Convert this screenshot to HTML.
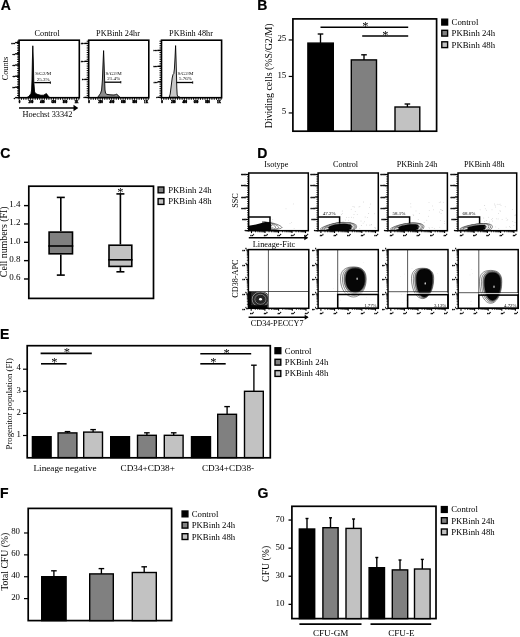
<!DOCTYPE html>
<html><head><meta charset="utf-8"><title>Figure</title>
<style>html,body{margin:0;padding:0;background:#fff}svg{display:block;filter:blur(0.35px)}</style>
</head><body>
<svg width="520" height="637" viewBox="0 0 520 637">
<rect width="520" height="637" fill="#fff"/>
<text x="0.8" y="10" font-size="14" text-anchor="start" font-family="Liberation Sans, sans-serif" font-weight="bold" fill="#000" stroke="#000" stroke-width="0.2">A</text>
<text x="257.3" y="10" font-size="14" text-anchor="start" font-family="Liberation Sans, sans-serif" font-weight="bold" fill="#000" stroke="#000" stroke-width="0.2">B</text>
<text x="0.25" y="158" font-size="14" text-anchor="start" font-family="Liberation Sans, sans-serif" font-weight="bold" fill="#000" stroke="#000" stroke-width="0.2">C</text>
<text x="257.25" y="158" font-size="14" text-anchor="start" font-family="Liberation Sans, sans-serif" font-weight="bold" fill="#000" stroke="#000" stroke-width="0.2">D</text>
<text x="0.0" y="339" font-size="14" text-anchor="start" font-family="Liberation Sans, sans-serif" font-weight="bold" fill="#000" stroke="#000" stroke-width="0.2">E</text>
<text x="0.0" y="498" font-size="14" text-anchor="start" font-family="Liberation Sans, sans-serif" font-weight="bold" fill="#000" stroke="#000" stroke-width="0.2">F</text>
<text x="257.4" y="497.9" font-size="14" text-anchor="start" font-family="Liberation Sans, sans-serif" font-weight="bold" fill="#000" stroke="#000" stroke-width="0.2">G</text>
<path d="M27,97.5 L28.5,96.6 L30,95 L31,93.5 L31.6,90 L32,80 L32.4,60 L32.8,45.8 L33.3,60 L33.8,82 L34.6,92 L36,93.8 L38,94.6 L41,95.3 L43.5,95.2 L45,94.4 L46.2,93.6 L47.3,94.6 L48.5,96.6 L50,97.5 Z" fill="#000" stroke="#000" stroke-width="0.9" stroke-linejoin="round"/>
<rect x="19.1" y="40.2" width="60.20" height="57.50" fill="none" stroke="#000" stroke-width="1.6"/>
<line x1="17.1" y1="41.20" x2="19.1" y2="41.20" stroke="#000" stroke-width="1.0"/>
<line x1="17.1" y1="43.46" x2="19.1" y2="43.46" stroke="#000" stroke-width="1.0"/>
<line x1="17.1" y1="45.72" x2="19.1" y2="45.72" stroke="#000" stroke-width="1.0"/>
<line x1="17.1" y1="47.98" x2="19.1" y2="47.98" stroke="#000" stroke-width="1.0"/>
<line x1="17.1" y1="50.24" x2="19.1" y2="50.24" stroke="#000" stroke-width="1.0"/>
<line x1="17.1" y1="52.50" x2="19.1" y2="52.50" stroke="#000" stroke-width="1.0"/>
<line x1="17.1" y1="54.76" x2="19.1" y2="54.76" stroke="#000" stroke-width="1.0"/>
<line x1="17.1" y1="57.02" x2="19.1" y2="57.02" stroke="#000" stroke-width="1.0"/>
<line x1="17.1" y1="59.28" x2="19.1" y2="59.28" stroke="#000" stroke-width="1.0"/>
<line x1="17.1" y1="61.54" x2="19.1" y2="61.54" stroke="#000" stroke-width="1.0"/>
<line x1="17.1" y1="63.80" x2="19.1" y2="63.80" stroke="#000" stroke-width="1.0"/>
<line x1="17.1" y1="66.06" x2="19.1" y2="66.06" stroke="#000" stroke-width="1.0"/>
<line x1="17.1" y1="68.32" x2="19.1" y2="68.32" stroke="#000" stroke-width="1.0"/>
<line x1="17.1" y1="70.58" x2="19.1" y2="70.58" stroke="#000" stroke-width="1.0"/>
<line x1="17.1" y1="72.84" x2="19.1" y2="72.84" stroke="#000" stroke-width="1.0"/>
<line x1="17.1" y1="75.10" x2="19.1" y2="75.10" stroke="#000" stroke-width="1.0"/>
<line x1="17.1" y1="77.36" x2="19.1" y2="77.36" stroke="#000" stroke-width="1.0"/>
<line x1="17.1" y1="79.62" x2="19.1" y2="79.62" stroke="#000" stroke-width="1.0"/>
<line x1="17.1" y1="81.88" x2="19.1" y2="81.88" stroke="#000" stroke-width="1.0"/>
<line x1="17.1" y1="84.14" x2="19.1" y2="84.14" stroke="#000" stroke-width="1.0"/>
<line x1="17.1" y1="86.40" x2="19.1" y2="86.40" stroke="#000" stroke-width="1.0"/>
<line x1="17.1" y1="88.66" x2="19.1" y2="88.66" stroke="#000" stroke-width="1.0"/>
<line x1="17.1" y1="90.92" x2="19.1" y2="90.92" stroke="#000" stroke-width="1.0"/>
<line x1="17.1" y1="93.18" x2="19.1" y2="93.18" stroke="#000" stroke-width="1.0"/>
<line x1="17.1" y1="95.44" x2="19.1" y2="95.44" stroke="#000" stroke-width="1.0"/>
<line x1="17.1" y1="97.70" x2="19.1" y2="97.70" stroke="#000" stroke-width="1.0"/>
<line x1="15.100000000000001" y1="42.60" x2="19.1" y2="42.60" stroke="#000" stroke-width="1.4"/>
<text x="15.100000000000001" y="43.55" font-size="2.6" text-anchor="end" font-family="Liberation Serif, serif" font-weight="bold" fill="#000" stroke="#000" stroke-width="0.4">100</text>
<line x1="15.100000000000001" y1="53.80" x2="19.1" y2="53.80" stroke="#000" stroke-width="1.4"/>
<text x="15.100000000000001" y="54.75" font-size="2.6" text-anchor="end" font-family="Liberation Serif, serif" font-weight="bold" fill="#000" stroke="#000" stroke-width="0.4">80</text>
<line x1="15.100000000000001" y1="65.00" x2="19.1" y2="65.00" stroke="#000" stroke-width="1.4"/>
<text x="15.100000000000001" y="65.95" font-size="2.6" text-anchor="end" font-family="Liberation Serif, serif" font-weight="bold" fill="#000" stroke="#000" stroke-width="0.4">60</text>
<line x1="15.100000000000001" y1="76.20" x2="19.1" y2="76.20" stroke="#000" stroke-width="1.4"/>
<text x="15.100000000000001" y="77.15" font-size="2.6" text-anchor="end" font-family="Liberation Serif, serif" font-weight="bold" fill="#000" stroke="#000" stroke-width="0.4">40</text>
<line x1="15.100000000000001" y1="87.20" x2="19.1" y2="87.20" stroke="#000" stroke-width="1.4"/>
<text x="15.100000000000001" y="88.15" font-size="2.6" text-anchor="end" font-family="Liberation Serif, serif" font-weight="bold" fill="#000" stroke="#000" stroke-width="0.4">20</text>
<line x1="15.100000000000001" y1="97.60" x2="19.1" y2="97.60" stroke="#000" stroke-width="1.4"/>
<text x="15.100000000000001" y="98.55" font-size="2.6" text-anchor="end" font-family="Liberation Serif, serif" font-weight="bold" fill="#000" stroke="#000" stroke-width="0.4">0</text>
<line x1="19.10" y1="97.7" x2="19.10" y2="99.8" stroke="#000" stroke-width="1.0"/>
<line x1="21.40" y1="97.7" x2="21.40" y2="99.8" stroke="#000" stroke-width="1.0"/>
<line x1="23.69" y1="97.7" x2="23.69" y2="99.8" stroke="#000" stroke-width="1.0"/>
<line x1="25.99" y1="97.7" x2="25.99" y2="99.8" stroke="#000" stroke-width="1.0"/>
<line x1="28.28" y1="97.7" x2="28.28" y2="99.8" stroke="#000" stroke-width="1.0"/>
<line x1="30.58" y1="97.7" x2="30.58" y2="99.8" stroke="#000" stroke-width="1.0"/>
<line x1="32.88" y1="97.7" x2="32.88" y2="99.8" stroke="#000" stroke-width="1.0"/>
<line x1="35.17" y1="97.7" x2="35.17" y2="99.8" stroke="#000" stroke-width="1.0"/>
<line x1="37.47" y1="97.7" x2="37.47" y2="99.8" stroke="#000" stroke-width="1.0"/>
<line x1="39.77" y1="97.7" x2="39.77" y2="99.8" stroke="#000" stroke-width="1.0"/>
<line x1="42.06" y1="97.7" x2="42.06" y2="99.8" stroke="#000" stroke-width="1.0"/>
<line x1="44.36" y1="97.7" x2="44.36" y2="99.8" stroke="#000" stroke-width="1.0"/>
<line x1="46.65" y1="97.7" x2="46.65" y2="99.8" stroke="#000" stroke-width="1.0"/>
<line x1="48.95" y1="97.7" x2="48.95" y2="99.8" stroke="#000" stroke-width="1.0"/>
<line x1="51.25" y1="97.7" x2="51.25" y2="99.8" stroke="#000" stroke-width="1.0"/>
<line x1="53.54" y1="97.7" x2="53.54" y2="99.8" stroke="#000" stroke-width="1.0"/>
<line x1="55.84" y1="97.7" x2="55.84" y2="99.8" stroke="#000" stroke-width="1.0"/>
<line x1="58.13" y1="97.7" x2="58.13" y2="99.8" stroke="#000" stroke-width="1.0"/>
<line x1="60.43" y1="97.7" x2="60.43" y2="99.8" stroke="#000" stroke-width="1.0"/>
<line x1="62.73" y1="97.7" x2="62.73" y2="99.8" stroke="#000" stroke-width="1.0"/>
<line x1="65.02" y1="97.7" x2="65.02" y2="99.8" stroke="#000" stroke-width="1.0"/>
<line x1="67.32" y1="97.7" x2="67.32" y2="99.8" stroke="#000" stroke-width="1.0"/>
<line x1="69.62" y1="97.7" x2="69.62" y2="99.8" stroke="#000" stroke-width="1.0"/>
<line x1="71.91" y1="97.7" x2="71.91" y2="99.8" stroke="#000" stroke-width="1.0"/>
<line x1="74.21" y1="97.7" x2="74.21" y2="99.8" stroke="#000" stroke-width="1.0"/>
<line x1="76.50" y1="97.7" x2="76.50" y2="99.8" stroke="#000" stroke-width="1.0"/>
<line x1="78.80" y1="97.7" x2="78.80" y2="99.8" stroke="#000" stroke-width="1.0"/>
<text x="19.50" y="103.10000000000001" font-size="3.1" text-anchor="middle" font-family="Liberation Serif, serif" font-weight="bold" fill="#000" stroke="#000" stroke-width="0.4">0</text>
<text x="30.90" y="103.10000000000001" font-size="3.1" text-anchor="middle" font-family="Liberation Serif, serif" font-weight="bold" fill="#000" stroke="#000" stroke-width="0.4">200</text>
<text x="42.30" y="103.10000000000001" font-size="3.1" text-anchor="middle" font-family="Liberation Serif, serif" font-weight="bold" fill="#000" stroke="#000" stroke-width="0.4">400</text>
<text x="53.70" y="103.10000000000001" font-size="3.1" text-anchor="middle" font-family="Liberation Serif, serif" font-weight="bold" fill="#000" stroke="#000" stroke-width="0.4">600</text>
<text x="65.10" y="103.10000000000001" font-size="3.1" text-anchor="middle" font-family="Liberation Serif, serif" font-weight="bold" fill="#000" stroke="#000" stroke-width="0.4">800</text>
<text x="76.50" y="103.10000000000001" font-size="3.1" text-anchor="middle" font-family="Liberation Serif, serif" font-weight="bold" fill="#000" stroke="#000" stroke-width="0.4">1K</text>
<line x1="34.2" y1="82.6" x2="50.4" y2="82.6" stroke="#000" stroke-width="1.3"/>
<line x1="50.4" y1="81.39999999999999" x2="50.4" y2="83.8" stroke="#000" stroke-width="0.9"/>
<text x="43.199999999999996" y="75.39999999999999" font-size="5" text-anchor="middle" font-family="Liberation Serif, serif" fill="#000">S/G2/M</text>
<text x="43.199999999999996" y="80.5" font-size="5" text-anchor="middle" font-family="Liberation Serif, serif" fill="#000">25.3%</text>
<text x="47.2" y="35.8" font-size="8.25" text-anchor="middle" font-family="Liberation Serif, serif" fill="#000">Control</text>
<path d="M97.6,97.3 L98.6,96.2 L99.6,94.6 L100.6,93.2 L101.6,90 L102.4,80 L103,64 L103.6,50.6 L104.1,64 L104.6,80 L105,90 L105.6,93.4 L107,94.4 L110,94.8 L114,95 L115.6,94.6 L116.8,94.2 L117.8,95 L118.9,96.6 L120,97.3 Z" fill="#8a8a8a" stroke="#000" stroke-width="0.9" stroke-linejoin="round"/>
<rect x="88.7" y="40.2" width="60.10" height="57.50" fill="none" stroke="#000" stroke-width="1.6"/>
<line x1="86.7" y1="41.20" x2="88.7" y2="41.20" stroke="#000" stroke-width="1.0"/>
<line x1="86.7" y1="43.46" x2="88.7" y2="43.46" stroke="#000" stroke-width="1.0"/>
<line x1="86.7" y1="45.72" x2="88.7" y2="45.72" stroke="#000" stroke-width="1.0"/>
<line x1="86.7" y1="47.98" x2="88.7" y2="47.98" stroke="#000" stroke-width="1.0"/>
<line x1="86.7" y1="50.24" x2="88.7" y2="50.24" stroke="#000" stroke-width="1.0"/>
<line x1="86.7" y1="52.50" x2="88.7" y2="52.50" stroke="#000" stroke-width="1.0"/>
<line x1="86.7" y1="54.76" x2="88.7" y2="54.76" stroke="#000" stroke-width="1.0"/>
<line x1="86.7" y1="57.02" x2="88.7" y2="57.02" stroke="#000" stroke-width="1.0"/>
<line x1="86.7" y1="59.28" x2="88.7" y2="59.28" stroke="#000" stroke-width="1.0"/>
<line x1="86.7" y1="61.54" x2="88.7" y2="61.54" stroke="#000" stroke-width="1.0"/>
<line x1="86.7" y1="63.80" x2="88.7" y2="63.80" stroke="#000" stroke-width="1.0"/>
<line x1="86.7" y1="66.06" x2="88.7" y2="66.06" stroke="#000" stroke-width="1.0"/>
<line x1="86.7" y1="68.32" x2="88.7" y2="68.32" stroke="#000" stroke-width="1.0"/>
<line x1="86.7" y1="70.58" x2="88.7" y2="70.58" stroke="#000" stroke-width="1.0"/>
<line x1="86.7" y1="72.84" x2="88.7" y2="72.84" stroke="#000" stroke-width="1.0"/>
<line x1="86.7" y1="75.10" x2="88.7" y2="75.10" stroke="#000" stroke-width="1.0"/>
<line x1="86.7" y1="77.36" x2="88.7" y2="77.36" stroke="#000" stroke-width="1.0"/>
<line x1="86.7" y1="79.62" x2="88.7" y2="79.62" stroke="#000" stroke-width="1.0"/>
<line x1="86.7" y1="81.88" x2="88.7" y2="81.88" stroke="#000" stroke-width="1.0"/>
<line x1="86.7" y1="84.14" x2="88.7" y2="84.14" stroke="#000" stroke-width="1.0"/>
<line x1="86.7" y1="86.40" x2="88.7" y2="86.40" stroke="#000" stroke-width="1.0"/>
<line x1="86.7" y1="88.66" x2="88.7" y2="88.66" stroke="#000" stroke-width="1.0"/>
<line x1="86.7" y1="90.92" x2="88.7" y2="90.92" stroke="#000" stroke-width="1.0"/>
<line x1="86.7" y1="93.18" x2="88.7" y2="93.18" stroke="#000" stroke-width="1.0"/>
<line x1="86.7" y1="95.44" x2="88.7" y2="95.44" stroke="#000" stroke-width="1.0"/>
<line x1="86.7" y1="97.70" x2="88.7" y2="97.70" stroke="#000" stroke-width="1.0"/>
<line x1="84.7" y1="43.40" x2="88.7" y2="43.40" stroke="#000" stroke-width="1.4"/>
<text x="84.7" y="44.35" font-size="2.6" text-anchor="end" font-family="Liberation Serif, serif" font-weight="bold" fill="#000" stroke="#000" stroke-width="0.4">150</text>
<line x1="84.7" y1="61.30" x2="88.7" y2="61.30" stroke="#000" stroke-width="1.4"/>
<text x="84.7" y="62.25" font-size="2.6" text-anchor="end" font-family="Liberation Serif, serif" font-weight="bold" fill="#000" stroke="#000" stroke-width="0.4">100</text>
<line x1="84.7" y1="79.40" x2="88.7" y2="79.40" stroke="#000" stroke-width="1.4"/>
<text x="84.7" y="80.35" font-size="2.6" text-anchor="end" font-family="Liberation Serif, serif" font-weight="bold" fill="#000" stroke="#000" stroke-width="0.4">50</text>
<line x1="84.7" y1="97.40" x2="88.7" y2="97.40" stroke="#000" stroke-width="1.4"/>
<text x="84.7" y="98.35" font-size="2.6" text-anchor="end" font-family="Liberation Serif, serif" font-weight="bold" fill="#000" stroke="#000" stroke-width="0.4">0</text>
<line x1="88.70" y1="97.7" x2="88.70" y2="99.8" stroke="#000" stroke-width="1.0"/>
<line x1="90.99" y1="97.7" x2="90.99" y2="99.8" stroke="#000" stroke-width="1.0"/>
<line x1="93.28" y1="97.7" x2="93.28" y2="99.8" stroke="#000" stroke-width="1.0"/>
<line x1="95.58" y1="97.7" x2="95.58" y2="99.8" stroke="#000" stroke-width="1.0"/>
<line x1="97.87" y1="97.7" x2="97.87" y2="99.8" stroke="#000" stroke-width="1.0"/>
<line x1="100.16" y1="97.7" x2="100.16" y2="99.8" stroke="#000" stroke-width="1.0"/>
<line x1="102.45" y1="97.7" x2="102.45" y2="99.8" stroke="#000" stroke-width="1.0"/>
<line x1="104.75" y1="97.7" x2="104.75" y2="99.8" stroke="#000" stroke-width="1.0"/>
<line x1="107.04" y1="97.7" x2="107.04" y2="99.8" stroke="#000" stroke-width="1.0"/>
<line x1="109.33" y1="97.7" x2="109.33" y2="99.8" stroke="#000" stroke-width="1.0"/>
<line x1="111.62" y1="97.7" x2="111.62" y2="99.8" stroke="#000" stroke-width="1.0"/>
<line x1="113.92" y1="97.7" x2="113.92" y2="99.8" stroke="#000" stroke-width="1.0"/>
<line x1="116.21" y1="97.7" x2="116.21" y2="99.8" stroke="#000" stroke-width="1.0"/>
<line x1="118.50" y1="97.7" x2="118.50" y2="99.8" stroke="#000" stroke-width="1.0"/>
<line x1="120.79" y1="97.7" x2="120.79" y2="99.8" stroke="#000" stroke-width="1.0"/>
<line x1="123.08" y1="97.7" x2="123.08" y2="99.8" stroke="#000" stroke-width="1.0"/>
<line x1="125.38" y1="97.7" x2="125.38" y2="99.8" stroke="#000" stroke-width="1.0"/>
<line x1="127.67" y1="97.7" x2="127.67" y2="99.8" stroke="#000" stroke-width="1.0"/>
<line x1="129.96" y1="97.7" x2="129.96" y2="99.8" stroke="#000" stroke-width="1.0"/>
<line x1="132.25" y1="97.7" x2="132.25" y2="99.8" stroke="#000" stroke-width="1.0"/>
<line x1="134.55" y1="97.7" x2="134.55" y2="99.8" stroke="#000" stroke-width="1.0"/>
<line x1="136.84" y1="97.7" x2="136.84" y2="99.8" stroke="#000" stroke-width="1.0"/>
<line x1="139.13" y1="97.7" x2="139.13" y2="99.8" stroke="#000" stroke-width="1.0"/>
<line x1="141.42" y1="97.7" x2="141.42" y2="99.8" stroke="#000" stroke-width="1.0"/>
<line x1="143.72" y1="97.7" x2="143.72" y2="99.8" stroke="#000" stroke-width="1.0"/>
<line x1="146.01" y1="97.7" x2="146.01" y2="99.8" stroke="#000" stroke-width="1.0"/>
<line x1="148.30" y1="97.7" x2="148.30" y2="99.8" stroke="#000" stroke-width="1.0"/>
<text x="89.10" y="103.10000000000001" font-size="3.1" text-anchor="middle" font-family="Liberation Serif, serif" font-weight="bold" fill="#000" stroke="#000" stroke-width="0.4">0</text>
<text x="100.50" y="103.10000000000001" font-size="3.1" text-anchor="middle" font-family="Liberation Serif, serif" font-weight="bold" fill="#000" stroke="#000" stroke-width="0.4">200</text>
<text x="111.90" y="103.10000000000001" font-size="3.1" text-anchor="middle" font-family="Liberation Serif, serif" font-weight="bold" fill="#000" stroke="#000" stroke-width="0.4">400</text>
<text x="123.30" y="103.10000000000001" font-size="3.1" text-anchor="middle" font-family="Liberation Serif, serif" font-weight="bold" fill="#000" stroke="#000" stroke-width="0.4">600</text>
<text x="134.70" y="103.10000000000001" font-size="3.1" text-anchor="middle" font-family="Liberation Serif, serif" font-weight="bold" fill="#000" stroke="#000" stroke-width="0.4">800</text>
<text x="146.10" y="103.10000000000001" font-size="3.1" text-anchor="middle" font-family="Liberation Serif, serif" font-weight="bold" fill="#000" stroke="#000" stroke-width="0.4">1K</text>
<line x1="104.6" y1="82.2" x2="120.8" y2="82.2" stroke="#000" stroke-width="1.3"/>
<line x1="120.8" y1="81.0" x2="120.8" y2="83.4" stroke="#000" stroke-width="0.9"/>
<text x="113.6" y="75.0" font-size="5" text-anchor="middle" font-family="Liberation Serif, serif" fill="#000">S/G2/M</text>
<text x="113.6" y="80.10000000000001" font-size="5" text-anchor="middle" font-family="Liberation Serif, serif" fill="#000">21.4%</text>
<text x="118" y="35.8" font-size="8.25" text-anchor="middle" font-family="Liberation Serif, serif" fill="#000">PKBinh 24hr</text>
<path d="M169.2,97.3 L170.2,94 L171.2,86 L172.2,78 L173,74.6 L173.8,73.6 L174.4,69 L175,58 L175.6,45.6 L176,58 L176.4,72 L176.8,88 L177.2,95 L178,96.8 L180,97.3 Z" fill="#c8c8c8" stroke="#000" stroke-width="0.9" stroke-linejoin="round"/>
<rect x="161.5" y="40.2" width="60.10" height="57.50" fill="none" stroke="#000" stroke-width="1.6"/>
<line x1="159.5" y1="41.20" x2="161.5" y2="41.20" stroke="#000" stroke-width="1.0"/>
<line x1="159.5" y1="43.46" x2="161.5" y2="43.46" stroke="#000" stroke-width="1.0"/>
<line x1="159.5" y1="45.72" x2="161.5" y2="45.72" stroke="#000" stroke-width="1.0"/>
<line x1="159.5" y1="47.98" x2="161.5" y2="47.98" stroke="#000" stroke-width="1.0"/>
<line x1="159.5" y1="50.24" x2="161.5" y2="50.24" stroke="#000" stroke-width="1.0"/>
<line x1="159.5" y1="52.50" x2="161.5" y2="52.50" stroke="#000" stroke-width="1.0"/>
<line x1="159.5" y1="54.76" x2="161.5" y2="54.76" stroke="#000" stroke-width="1.0"/>
<line x1="159.5" y1="57.02" x2="161.5" y2="57.02" stroke="#000" stroke-width="1.0"/>
<line x1="159.5" y1="59.28" x2="161.5" y2="59.28" stroke="#000" stroke-width="1.0"/>
<line x1="159.5" y1="61.54" x2="161.5" y2="61.54" stroke="#000" stroke-width="1.0"/>
<line x1="159.5" y1="63.80" x2="161.5" y2="63.80" stroke="#000" stroke-width="1.0"/>
<line x1="159.5" y1="66.06" x2="161.5" y2="66.06" stroke="#000" stroke-width="1.0"/>
<line x1="159.5" y1="68.32" x2="161.5" y2="68.32" stroke="#000" stroke-width="1.0"/>
<line x1="159.5" y1="70.58" x2="161.5" y2="70.58" stroke="#000" stroke-width="1.0"/>
<line x1="159.5" y1="72.84" x2="161.5" y2="72.84" stroke="#000" stroke-width="1.0"/>
<line x1="159.5" y1="75.10" x2="161.5" y2="75.10" stroke="#000" stroke-width="1.0"/>
<line x1="159.5" y1="77.36" x2="161.5" y2="77.36" stroke="#000" stroke-width="1.0"/>
<line x1="159.5" y1="79.62" x2="161.5" y2="79.62" stroke="#000" stroke-width="1.0"/>
<line x1="159.5" y1="81.88" x2="161.5" y2="81.88" stroke="#000" stroke-width="1.0"/>
<line x1="159.5" y1="84.14" x2="161.5" y2="84.14" stroke="#000" stroke-width="1.0"/>
<line x1="159.5" y1="86.40" x2="161.5" y2="86.40" stroke="#000" stroke-width="1.0"/>
<line x1="159.5" y1="88.66" x2="161.5" y2="88.66" stroke="#000" stroke-width="1.0"/>
<line x1="159.5" y1="90.92" x2="161.5" y2="90.92" stroke="#000" stroke-width="1.0"/>
<line x1="159.5" y1="93.18" x2="161.5" y2="93.18" stroke="#000" stroke-width="1.0"/>
<line x1="159.5" y1="95.44" x2="161.5" y2="95.44" stroke="#000" stroke-width="1.0"/>
<line x1="159.5" y1="97.70" x2="161.5" y2="97.70" stroke="#000" stroke-width="1.0"/>
<line x1="157.5" y1="50.40" x2="161.5" y2="50.40" stroke="#000" stroke-width="1.4"/>
<text x="157.5" y="51.35" font-size="2.6" text-anchor="end" font-family="Liberation Serif, serif" font-weight="bold" fill="#000" stroke="#000" stroke-width="0.4">300</text>
<line x1="157.5" y1="66.30" x2="161.5" y2="66.30" stroke="#000" stroke-width="1.4"/>
<text x="157.5" y="67.25" font-size="2.6" text-anchor="end" font-family="Liberation Serif, serif" font-weight="bold" fill="#000" stroke="#000" stroke-width="0.4">200</text>
<line x1="157.5" y1="81.80" x2="161.5" y2="81.80" stroke="#000" stroke-width="1.4"/>
<text x="157.5" y="82.75" font-size="2.6" text-anchor="end" font-family="Liberation Serif, serif" font-weight="bold" fill="#000" stroke="#000" stroke-width="0.4">100</text>
<line x1="157.5" y1="97.30" x2="161.5" y2="97.30" stroke="#000" stroke-width="1.4"/>
<text x="157.5" y="98.25" font-size="2.6" text-anchor="end" font-family="Liberation Serif, serif" font-weight="bold" fill="#000" stroke="#000" stroke-width="0.4">0</text>
<line x1="161.50" y1="97.7" x2="161.50" y2="99.8" stroke="#000" stroke-width="1.0"/>
<line x1="163.79" y1="97.7" x2="163.79" y2="99.8" stroke="#000" stroke-width="1.0"/>
<line x1="166.08" y1="97.7" x2="166.08" y2="99.8" stroke="#000" stroke-width="1.0"/>
<line x1="168.38" y1="97.7" x2="168.38" y2="99.8" stroke="#000" stroke-width="1.0"/>
<line x1="170.67" y1="97.7" x2="170.67" y2="99.8" stroke="#000" stroke-width="1.0"/>
<line x1="172.96" y1="97.7" x2="172.96" y2="99.8" stroke="#000" stroke-width="1.0"/>
<line x1="175.25" y1="97.7" x2="175.25" y2="99.8" stroke="#000" stroke-width="1.0"/>
<line x1="177.55" y1="97.7" x2="177.55" y2="99.8" stroke="#000" stroke-width="1.0"/>
<line x1="179.84" y1="97.7" x2="179.84" y2="99.8" stroke="#000" stroke-width="1.0"/>
<line x1="182.13" y1="97.7" x2="182.13" y2="99.8" stroke="#000" stroke-width="1.0"/>
<line x1="184.42" y1="97.7" x2="184.42" y2="99.8" stroke="#000" stroke-width="1.0"/>
<line x1="186.72" y1="97.7" x2="186.72" y2="99.8" stroke="#000" stroke-width="1.0"/>
<line x1="189.01" y1="97.7" x2="189.01" y2="99.8" stroke="#000" stroke-width="1.0"/>
<line x1="191.30" y1="97.7" x2="191.30" y2="99.8" stroke="#000" stroke-width="1.0"/>
<line x1="193.59" y1="97.7" x2="193.59" y2="99.8" stroke="#000" stroke-width="1.0"/>
<line x1="195.88" y1="97.7" x2="195.88" y2="99.8" stroke="#000" stroke-width="1.0"/>
<line x1="198.18" y1="97.7" x2="198.18" y2="99.8" stroke="#000" stroke-width="1.0"/>
<line x1="200.47" y1="97.7" x2="200.47" y2="99.8" stroke="#000" stroke-width="1.0"/>
<line x1="202.76" y1="97.7" x2="202.76" y2="99.8" stroke="#000" stroke-width="1.0"/>
<line x1="205.05" y1="97.7" x2="205.05" y2="99.8" stroke="#000" stroke-width="1.0"/>
<line x1="207.35" y1="97.7" x2="207.35" y2="99.8" stroke="#000" stroke-width="1.0"/>
<line x1="209.64" y1="97.7" x2="209.64" y2="99.8" stroke="#000" stroke-width="1.0"/>
<line x1="211.93" y1="97.7" x2="211.93" y2="99.8" stroke="#000" stroke-width="1.0"/>
<line x1="214.22" y1="97.7" x2="214.22" y2="99.8" stroke="#000" stroke-width="1.0"/>
<line x1="216.52" y1="97.7" x2="216.52" y2="99.8" stroke="#000" stroke-width="1.0"/>
<line x1="218.81" y1="97.7" x2="218.81" y2="99.8" stroke="#000" stroke-width="1.0"/>
<line x1="221.10" y1="97.7" x2="221.10" y2="99.8" stroke="#000" stroke-width="1.0"/>
<text x="161.90" y="103.10000000000001" font-size="3.1" text-anchor="middle" font-family="Liberation Serif, serif" font-weight="bold" fill="#000" stroke="#000" stroke-width="0.4">0</text>
<text x="173.30" y="103.10000000000001" font-size="3.1" text-anchor="middle" font-family="Liberation Serif, serif" font-weight="bold" fill="#000" stroke="#000" stroke-width="0.4">200</text>
<text x="184.70" y="103.10000000000001" font-size="3.1" text-anchor="middle" font-family="Liberation Serif, serif" font-weight="bold" fill="#000" stroke="#000" stroke-width="0.4">400</text>
<text x="196.10" y="103.10000000000001" font-size="3.1" text-anchor="middle" font-family="Liberation Serif, serif" font-weight="bold" fill="#000" stroke="#000" stroke-width="0.4">600</text>
<text x="207.50" y="103.10000000000001" font-size="3.1" text-anchor="middle" font-family="Liberation Serif, serif" font-weight="bold" fill="#000" stroke="#000" stroke-width="0.4">800</text>
<text x="218.90" y="103.10000000000001" font-size="3.1" text-anchor="middle" font-family="Liberation Serif, serif" font-weight="bold" fill="#000" stroke="#000" stroke-width="0.4">1K</text>
<line x1="176.5" y1="82.5" x2="192.7" y2="82.5" stroke="#000" stroke-width="1.3"/>
<line x1="192.7" y1="81.3" x2="192.7" y2="83.7" stroke="#000" stroke-width="0.9"/>
<text x="185.5" y="75.3" font-size="5" text-anchor="middle" font-family="Liberation Serif, serif" fill="#000">S/G2/M</text>
<text x="185.5" y="80.4" font-size="5" text-anchor="middle" font-family="Liberation Serif, serif" fill="#000">5.76%</text>
<text x="191" y="35.8" font-size="8.25" text-anchor="middle" font-family="Liberation Serif, serif" fill="#000">PKBinh 48hr</text>
<text x="8" y="68.6" font-size="8.3" text-anchor="middle" font-family="Liberation Serif, serif" fill="#000" transform="rotate(-90 8 68.6)">Counts</text>
<line x1="19" y1="108" x2="77.2" y2="108" stroke="#000" stroke-width="1.6"/>
<path d="M78.2,108 L73.5,104.85 L73.5,111.15 Z" fill="#000"/>
<text x="47.4" y="117" font-size="8.3" text-anchor="middle" font-family="Liberation Serif, serif" fill="#000">Hoechst 33342</text>
<rect x="292.9" y="18.9" width="143.70" height="112.30" fill="none" stroke="#000" stroke-width="1.7"/>
<line x1="288.7" y1="112.94999999999999" x2="292.9" y2="112.94999999999999" stroke="#000" stroke-width="1.2"/>
<text x="286.29999999999995" y="114.14999999999999" font-size="8.9" text-anchor="end" font-family="Liberation Serif, serif" fill="#000">5</text>
<line x1="288.7" y1="76.44999999999999" x2="292.9" y2="76.44999999999999" stroke="#000" stroke-width="1.2"/>
<text x="286.29999999999995" y="77.64999999999999" font-size="8.9" text-anchor="end" font-family="Liberation Serif, serif" fill="#000">15</text>
<line x1="288.7" y1="39.94999999999999" x2="292.9" y2="39.94999999999999" stroke="#000" stroke-width="1.2"/>
<text x="286.29999999999995" y="41.14999999999999" font-size="8.9" text-anchor="end" font-family="Liberation Serif, serif" fill="#000">25</text>
<rect x="307.90" y="43.10" width="25.40" height="88.10" fill="#000" stroke="#000" stroke-width="1.4"/>
<line x1="320.5" y1="34" x2="320.5" y2="43" stroke="#000" stroke-width="1.35"/>
<line x1="317.7" y1="34" x2="323.3" y2="34" stroke="#000" stroke-width="1.35"/>
<rect x="351.30" y="59.90" width="25.20" height="71.30" fill="#808080" stroke="#000" stroke-width="1.4"/>
<line x1="364" y1="54.8" x2="364" y2="60" stroke="#000" stroke-width="1.35"/>
<line x1="361.2" y1="54.8" x2="366.8" y2="54.8" stroke="#000" stroke-width="1.35"/>
<rect x="395.00" y="107.00" width="24.80" height="24.20" fill="#c2c2c2" stroke="#000" stroke-width="1.4"/>
<line x1="407.4" y1="104" x2="407.4" y2="107" stroke="#000" stroke-width="1.35"/>
<line x1="404.59999999999997" y1="104" x2="410.2" y2="104" stroke="#000" stroke-width="1.35"/>
<line x1="320.5" y1="27.2" x2="408.2" y2="27.2" stroke="#000" stroke-width="1.6"/>
<text x="365.3" y="29.81" font-size="12.5" text-anchor="middle" font-family="Liberation Serif, serif" fill="#000">*</text>
<line x1="362.2" y1="36" x2="408.2" y2="36" stroke="#000" stroke-width="1.6"/>
<text x="385.4" y="38.51" font-size="12.5" text-anchor="middle" font-family="Liberation Serif, serif" fill="#000">*</text>
<text x="272.2" y="75.8" font-size="9.9" text-anchor="middle" font-family="Liberation Serif, serif" fill="#000" transform="rotate(-90 272.2 75.8)">Dividing cells (%S/G2/M)</text>
<rect x="441.80" y="19.20" width="5.80" height="5.80" fill="#000" stroke="#000" stroke-width="1.4"/>
<text x="451.6" y="25.0" font-size="8.75" text-anchor="start" font-family="Liberation Serif, serif" fill="#000">Control</text>
<rect x="441.80" y="30.30" width="5.80" height="5.80" fill="#808080" stroke="#000" stroke-width="1.4"/>
<text x="451.6" y="36.1" font-size="8.75" text-anchor="start" font-family="Liberation Serif, serif" fill="#000">PKBinh 24h</text>
<rect x="441.80" y="41.80" width="5.80" height="5.80" fill="#c2c2c2" stroke="#000" stroke-width="1.4"/>
<text x="451.6" y="47.6" font-size="8.75" text-anchor="start" font-family="Liberation Serif, serif" fill="#000">PKBinh 48h</text>
<rect x="28.8" y="186.2" width="124.70" height="112.20" fill="none" stroke="#000" stroke-width="1.7"/>
<line x1="24.0" y1="278.98" x2="28.8" y2="278.98" stroke="#000" stroke-width="1.4"/>
<text x="20.4" y="280.28000000000003" font-size="9" text-anchor="end" font-family="Liberation Serif, serif" fill="#000">0.6</text>
<line x1="24.0" y1="260.64" x2="28.8" y2="260.64" stroke="#000" stroke-width="1.4"/>
<text x="20.4" y="261.94" font-size="9" text-anchor="end" font-family="Liberation Serif, serif" fill="#000">0.8</text>
<line x1="24.0" y1="242.3" x2="28.8" y2="242.3" stroke="#000" stroke-width="1.4"/>
<text x="20.4" y="243.60000000000002" font-size="9" text-anchor="end" font-family="Liberation Serif, serif" fill="#000">1.0</text>
<line x1="24.0" y1="223.96" x2="28.8" y2="223.96" stroke="#000" stroke-width="1.4"/>
<text x="20.4" y="225.26000000000002" font-size="9" text-anchor="end" font-family="Liberation Serif, serif" fill="#000">1.2</text>
<line x1="24.0" y1="205.62" x2="28.8" y2="205.62" stroke="#000" stroke-width="1.4"/>
<text x="20.4" y="206.92000000000002" font-size="9" text-anchor="end" font-family="Liberation Serif, serif" fill="#000">1.4</text>
<line x1="60.8" y1="197.4" x2="60.8" y2="231.3" stroke="#000" stroke-width="1.6"/>
<line x1="60.8" y1="254.6" x2="60.8" y2="275.1" stroke="#000" stroke-width="1.6"/>
<line x1="56.8" y1="197.4" x2="64.8" y2="197.4" stroke="#000" stroke-width="1.6"/>
<line x1="56.8" y1="275.1" x2="64.8" y2="275.1" stroke="#000" stroke-width="1.6"/>
<rect x="49.099999999999994" y="232.10000000000002" width="23.40" height="21.70" fill="#808080" stroke="#000" stroke-width="1.6"/>
<line x1="48.3" y1="246" x2="73.3" y2="246" stroke="#000" stroke-width="1.6"/>
<line x1="120.4" y1="193.9" x2="120.4" y2="244.4" stroke="#000" stroke-width="1.6"/>
<line x1="120.4" y1="267.2" x2="120.4" y2="271.8" stroke="#000" stroke-width="1.6"/>
<line x1="116.4" y1="193.9" x2="124.4" y2="193.9" stroke="#000" stroke-width="1.6"/>
<line x1="116.4" y1="271.8" x2="124.4" y2="271.8" stroke="#000" stroke-width="1.6"/>
<rect x="109.0" y="245.20000000000002" width="22.80" height="21.20" fill="#c2c2c2" stroke="#000" stroke-width="1.6"/>
<line x1="108.2" y1="259.8" x2="132.6" y2="259.8" stroke="#000" stroke-width="1.6"/>
<text x="120.3" y="196.11" font-size="12.5" text-anchor="middle" font-family="Liberation Serif, serif" fill="#000">*</text>
<text x="7.3" y="241.8" font-size="9.9" text-anchor="middle" font-family="Liberation Serif, serif" fill="#000" transform="rotate(-90 7.3 241.8)">Cell numbers (FI)</text>
<rect x="158.10" y="187.00" width="5.80" height="5.80" fill="#808080" stroke="#000" stroke-width="1.4"/>
<text x="168.2" y="192.8" font-size="8.75" text-anchor="start" font-family="Liberation Serif, serif" fill="#000">PKBinh 24h</text>
<rect x="158.10" y="198.60" width="5.80" height="5.80" fill="#c2c2c2" stroke="#000" stroke-width="1.4"/>
<text x="168.2" y="204.4" font-size="8.75" text-anchor="start" font-family="Liberation Serif, serif" fill="#000">PKBinh 48h</text>
<circle cx="282.4" cy="227.4" r="0.4" fill="#b4b4b4"/>
<circle cx="294.1" cy="228.3" r="0.4" fill="#b4b4b4"/>
<circle cx="290.0" cy="223.3" r="0.4" fill="#b4b4b4"/>
<circle cx="272.8" cy="219.6" r="0.4" fill="#b4b4b4"/>
<circle cx="272.0" cy="221.6" r="0.4" fill="#b4b4b4"/>
<circle cx="273.2" cy="228.1" r="0.4" fill="#b4b4b4"/>
<circle cx="286.0" cy="208.8" r="0.4" fill="#b4b4b4"/>
<circle cx="275.2" cy="226.2" r="0.4" fill="#b4b4b4"/>
<circle cx="293.3" cy="203.9" r="0.4" fill="#b4b4b4"/>
<circle cx="291.5" cy="222.6" r="0.4" fill="#b4b4b4"/>
<path d="M262,222.20 C272.00,221.60 281.80,225.50 281.80,227.60 C281.80,229.00 272.00,230.40 262,230.2" fill="#fff" stroke="#111" stroke-width="0.5"/>
<path d="M262,222.26 C270.88,221.60 278.64,225.50 278.64,227.60 C278.64,229.00 270.88,230.34 262,230.2" fill="#fff" stroke="#111" stroke-width="0.5"/>
<path d="M262,222.31 C269.80,221.60 275.58,225.50 275.58,227.60 C275.58,229.00 269.80,230.29 262,230.2" fill="#fff" stroke="#111" stroke-width="0.5"/>
<path d="M262,222.36 C268.80,221.60 272.76,225.50 272.76,227.60 C272.76,229.00 268.80,230.24 262,230.2" fill="#fff" stroke="#111" stroke-width="0.5"/>
<path d="M248.7,230.2 L248.7,225.8 L256,224.4 L265.4,222 L270,222.2 C271.6,224 271.8,228 270.6,230.2 Z" fill="#050505"/>
<ellipse cx="272.6" cy="226.6" rx="1.5" ry="0.7" fill="#fff"/>
<rect x="248.7" y="173" width="59.60" height="57.70" fill="none" stroke="#000" stroke-width="1.5"/>
<path d="M248.7,216.9 L270,216.9 L270,223.5" fill="none" stroke="#000" stroke-width="1.5"/>
<line x1="245.7" y1="174.50" x2="248.7" y2="174.50" stroke="#000" stroke-width="1.3"/>
<text x="245.7" y="175.25" font-size="2.0" text-anchor="end" font-family="Liberation Serif, serif" font-weight="bold" fill="#000" stroke="#000" stroke-width="0.45">250K</text>
<line x1="245.7" y1="185.74" x2="248.7" y2="185.74" stroke="#000" stroke-width="1.3"/>
<text x="245.7" y="186.49" font-size="2.0" text-anchor="end" font-family="Liberation Serif, serif" font-weight="bold" fill="#000" stroke="#000" stroke-width="0.45">200K</text>
<line x1="245.7" y1="196.98" x2="248.7" y2="196.98" stroke="#000" stroke-width="1.3"/>
<text x="245.7" y="197.73" font-size="2.0" text-anchor="end" font-family="Liberation Serif, serif" font-weight="bold" fill="#000" stroke="#000" stroke-width="0.45">150K</text>
<line x1="245.7" y1="208.22" x2="248.7" y2="208.22" stroke="#000" stroke-width="1.3"/>
<text x="245.7" y="208.97" font-size="2.0" text-anchor="end" font-family="Liberation Serif, serif" font-weight="bold" fill="#000" stroke="#000" stroke-width="0.45">100K</text>
<line x1="245.7" y1="219.46" x2="248.7" y2="219.46" stroke="#000" stroke-width="1.3"/>
<text x="245.7" y="220.21" font-size="2.0" text-anchor="end" font-family="Liberation Serif, serif" font-weight="bold" fill="#000" stroke="#000" stroke-width="0.45">50K</text>
<line x1="245.7" y1="230.70" x2="248.7" y2="230.70" stroke="#000" stroke-width="1.3"/>
<text x="245.7" y="231.45" font-size="2.0" text-anchor="end" font-family="Liberation Serif, serif" font-weight="bold" fill="#000" stroke="#000" stroke-width="0.45">0</text>
<line x1="247.0" y1="174.50" x2="248.7" y2="174.50" stroke="#000" stroke-width="0.8"/>
<line x1="247.0" y1="176.75" x2="248.7" y2="176.75" stroke="#000" stroke-width="0.8"/>
<line x1="247.0" y1="179.00" x2="248.7" y2="179.00" stroke="#000" stroke-width="0.8"/>
<line x1="247.0" y1="181.24" x2="248.7" y2="181.24" stroke="#000" stroke-width="0.8"/>
<line x1="247.0" y1="183.49" x2="248.7" y2="183.49" stroke="#000" stroke-width="0.8"/>
<line x1="247.0" y1="185.74" x2="248.7" y2="185.74" stroke="#000" stroke-width="0.8"/>
<line x1="247.0" y1="187.99" x2="248.7" y2="187.99" stroke="#000" stroke-width="0.8"/>
<line x1="247.0" y1="190.24" x2="248.7" y2="190.24" stroke="#000" stroke-width="0.8"/>
<line x1="247.0" y1="192.48" x2="248.7" y2="192.48" stroke="#000" stroke-width="0.8"/>
<line x1="247.0" y1="194.73" x2="248.7" y2="194.73" stroke="#000" stroke-width="0.8"/>
<line x1="247.0" y1="196.98" x2="248.7" y2="196.98" stroke="#000" stroke-width="0.8"/>
<line x1="247.0" y1="199.23" x2="248.7" y2="199.23" stroke="#000" stroke-width="0.8"/>
<line x1="247.0" y1="201.48" x2="248.7" y2="201.48" stroke="#000" stroke-width="0.8"/>
<line x1="247.0" y1="203.72" x2="248.7" y2="203.72" stroke="#000" stroke-width="0.8"/>
<line x1="247.0" y1="205.97" x2="248.7" y2="205.97" stroke="#000" stroke-width="0.8"/>
<line x1="247.0" y1="208.22" x2="248.7" y2="208.22" stroke="#000" stroke-width="0.8"/>
<line x1="247.0" y1="210.47" x2="248.7" y2="210.47" stroke="#000" stroke-width="0.8"/>
<line x1="247.0" y1="212.72" x2="248.7" y2="212.72" stroke="#000" stroke-width="0.8"/>
<line x1="247.0" y1="214.96" x2="248.7" y2="214.96" stroke="#000" stroke-width="0.8"/>
<line x1="247.0" y1="217.21" x2="248.7" y2="217.21" stroke="#000" stroke-width="0.8"/>
<line x1="247.0" y1="219.46" x2="248.7" y2="219.46" stroke="#000" stroke-width="0.8"/>
<line x1="247.0" y1="221.71" x2="248.7" y2="221.71" stroke="#000" stroke-width="0.8"/>
<line x1="247.0" y1="223.96" x2="248.7" y2="223.96" stroke="#000" stroke-width="0.8"/>
<line x1="247.0" y1="226.20" x2="248.7" y2="226.20" stroke="#000" stroke-width="0.8"/>
<line x1="247.0" y1="228.45" x2="248.7" y2="228.45" stroke="#000" stroke-width="0.8"/>
<line x1="247.0" y1="230.70" x2="248.7" y2="230.70" stroke="#000" stroke-width="0.8"/>
<line x1="251.50" y1="230.7" x2="251.50" y2="233.1" stroke="#000" stroke-width="1.1"/>
<text x="251.70" y="236.29999999999998" font-size="2.7" text-anchor="middle" font-family="Liberation Serif, serif" font-weight="bold" fill="#000" stroke="#000" stroke-width="0.4">10</text>
<text x="253.60" y="234.89999999999998" font-size="1.8" text-anchor="middle" font-family="Liberation Serif, serif" font-weight="bold" fill="#000" stroke="#000" stroke-width="0.4">1</text>
<line x1="265.00" y1="230.7" x2="265.00" y2="233.1" stroke="#000" stroke-width="1.1"/>
<text x="265.20" y="236.29999999999998" font-size="2.7" text-anchor="middle" font-family="Liberation Serif, serif" font-weight="bold" fill="#000" stroke="#000" stroke-width="0.4">10</text>
<text x="267.10" y="234.89999999999998" font-size="1.8" text-anchor="middle" font-family="Liberation Serif, serif" font-weight="bold" fill="#000" stroke="#000" stroke-width="0.4">2</text>
<line x1="278.50" y1="230.7" x2="278.50" y2="233.1" stroke="#000" stroke-width="1.1"/>
<text x="278.70" y="236.29999999999998" font-size="2.7" text-anchor="middle" font-family="Liberation Serif, serif" font-weight="bold" fill="#000" stroke="#000" stroke-width="0.4">10</text>
<text x="280.60" y="234.89999999999998" font-size="1.8" text-anchor="middle" font-family="Liberation Serif, serif" font-weight="bold" fill="#000" stroke="#000" stroke-width="0.4">3</text>
<line x1="292.00" y1="230.7" x2="292.00" y2="233.1" stroke="#000" stroke-width="1.1"/>
<text x="292.20" y="236.29999999999998" font-size="2.7" text-anchor="middle" font-family="Liberation Serif, serif" font-weight="bold" fill="#000" stroke="#000" stroke-width="0.4">10</text>
<text x="294.10" y="234.89999999999998" font-size="1.8" text-anchor="middle" font-family="Liberation Serif, serif" font-weight="bold" fill="#000" stroke="#000" stroke-width="0.4">4</text>
<line x1="305.50" y1="230.7" x2="305.50" y2="233.1" stroke="#000" stroke-width="1.1"/>
<text x="305.70" y="236.29999999999998" font-size="2.7" text-anchor="middle" font-family="Liberation Serif, serif" font-weight="bold" fill="#000" stroke="#000" stroke-width="0.4">10</text>
<text x="307.60" y="234.89999999999998" font-size="1.8" text-anchor="middle" font-family="Liberation Serif, serif" font-weight="bold" fill="#000" stroke="#000" stroke-width="0.4">5</text>
<line x1="255.56" y1="230.7" x2="255.56" y2="232.29999999999998" stroke="#000" stroke-width="0.75"/>
<line x1="257.94" y1="230.7" x2="257.94" y2="232.29999999999998" stroke="#000" stroke-width="0.75"/>
<line x1="259.63" y1="230.7" x2="259.63" y2="232.29999999999998" stroke="#000" stroke-width="0.75"/>
<line x1="260.94" y1="230.7" x2="260.94" y2="232.29999999999998" stroke="#000" stroke-width="0.75"/>
<line x1="262.01" y1="230.7" x2="262.01" y2="232.29999999999998" stroke="#000" stroke-width="0.75"/>
<line x1="262.91" y1="230.7" x2="262.91" y2="232.29999999999998" stroke="#000" stroke-width="0.75"/>
<line x1="263.69" y1="230.7" x2="263.69" y2="232.29999999999998" stroke="#000" stroke-width="0.75"/>
<line x1="264.38" y1="230.7" x2="264.38" y2="232.29999999999998" stroke="#000" stroke-width="0.75"/>
<line x1="269.06" y1="230.7" x2="269.06" y2="232.29999999999998" stroke="#000" stroke-width="0.75"/>
<line x1="271.44" y1="230.7" x2="271.44" y2="232.29999999999998" stroke="#000" stroke-width="0.75"/>
<line x1="273.13" y1="230.7" x2="273.13" y2="232.29999999999998" stroke="#000" stroke-width="0.75"/>
<line x1="274.44" y1="230.7" x2="274.44" y2="232.29999999999998" stroke="#000" stroke-width="0.75"/>
<line x1="275.51" y1="230.7" x2="275.51" y2="232.29999999999998" stroke="#000" stroke-width="0.75"/>
<line x1="276.41" y1="230.7" x2="276.41" y2="232.29999999999998" stroke="#000" stroke-width="0.75"/>
<line x1="277.19" y1="230.7" x2="277.19" y2="232.29999999999998" stroke="#000" stroke-width="0.75"/>
<line x1="277.88" y1="230.7" x2="277.88" y2="232.29999999999998" stroke="#000" stroke-width="0.75"/>
<line x1="282.56" y1="230.7" x2="282.56" y2="232.29999999999998" stroke="#000" stroke-width="0.75"/>
<line x1="284.94" y1="230.7" x2="284.94" y2="232.29999999999998" stroke="#000" stroke-width="0.75"/>
<line x1="286.63" y1="230.7" x2="286.63" y2="232.29999999999998" stroke="#000" stroke-width="0.75"/>
<line x1="287.94" y1="230.7" x2="287.94" y2="232.29999999999998" stroke="#000" stroke-width="0.75"/>
<line x1="289.01" y1="230.7" x2="289.01" y2="232.29999999999998" stroke="#000" stroke-width="0.75"/>
<line x1="289.91" y1="230.7" x2="289.91" y2="232.29999999999998" stroke="#000" stroke-width="0.75"/>
<line x1="290.69" y1="230.7" x2="290.69" y2="232.29999999999998" stroke="#000" stroke-width="0.75"/>
<line x1="291.38" y1="230.7" x2="291.38" y2="232.29999999999998" stroke="#000" stroke-width="0.75"/>
<line x1="296.06" y1="230.7" x2="296.06" y2="232.29999999999998" stroke="#000" stroke-width="0.75"/>
<line x1="298.44" y1="230.7" x2="298.44" y2="232.29999999999998" stroke="#000" stroke-width="0.75"/>
<line x1="300.13" y1="230.7" x2="300.13" y2="232.29999999999998" stroke="#000" stroke-width="0.75"/>
<line x1="301.44" y1="230.7" x2="301.44" y2="232.29999999999998" stroke="#000" stroke-width="0.75"/>
<line x1="302.51" y1="230.7" x2="302.51" y2="232.29999999999998" stroke="#000" stroke-width="0.75"/>
<line x1="303.41" y1="230.7" x2="303.41" y2="232.29999999999998" stroke="#000" stroke-width="0.75"/>
<line x1="304.19" y1="230.7" x2="304.19" y2="232.29999999999998" stroke="#000" stroke-width="0.75"/>
<line x1="304.88" y1="230.7" x2="304.88" y2="232.29999999999998" stroke="#000" stroke-width="0.75"/>
<text x="276.3" y="167.4" font-size="8.2" text-anchor="middle" font-family="Liberation Serif, serif" fill="#000">Isotype</text>
<circle cx="375.2" cy="228.5" r="0.4" fill="#b4b4b4"/>
<circle cx="371.0" cy="225.0" r="0.4" fill="#b4b4b4"/>
<circle cx="345.3" cy="227.8" r="0.4" fill="#b4b4b4"/>
<circle cx="351.2" cy="209.2" r="0.4" fill="#b4b4b4"/>
<circle cx="346.6" cy="217.4" r="0.4" fill="#b4b4b4"/>
<circle cx="363.1" cy="223.1" r="0.4" fill="#b4b4b4"/>
<circle cx="359.8" cy="228.4" r="0.4" fill="#b4b4b4"/>
<circle cx="342.2" cy="226.5" r="0.4" fill="#b4b4b4"/>
<circle cx="364.6" cy="221.8" r="0.4" fill="#b4b4b4"/>
<circle cx="351.4" cy="217.2" r="0.4" fill="#b4b4b4"/>
<circle cx="356.4" cy="224.8" r="0.4" fill="#b4b4b4"/>
<circle cx="368.7" cy="213.5" r="0.4" fill="#b4b4b4"/>
<circle cx="348.9" cy="217.6" r="0.4" fill="#b4b4b4"/>
<circle cx="359.0" cy="206.9" r="0.4" fill="#b4b4b4"/>
<circle cx="366.4" cy="225.0" r="0.4" fill="#b4b4b4"/>
<circle cx="375.4" cy="227.8" r="0.4" fill="#b4b4b4"/>
<circle cx="355.2" cy="211.4" r="0.4" fill="#b4b4b4"/>
<circle cx="345.6" cy="220.1" r="0.4" fill="#b4b4b4"/>
<circle cx="341.5" cy="214.5" r="0.4" fill="#b4b4b4"/>
<circle cx="367.6" cy="217.6" r="0.4" fill="#b4b4b4"/>
<circle cx="371.6" cy="224.5" r="0.4" fill="#b4b4b4"/>
<circle cx="365.1" cy="217.0" r="0.4" fill="#b4b4b4"/>
<circle cx="361.0" cy="221.0" r="0.4" fill="#b4b4b4"/>
<circle cx="370.3" cy="204.0" r="0.4" fill="#b4b4b4"/>
<circle cx="357.2" cy="214.7" r="0.4" fill="#b4b4b4"/>
<circle cx="342.3" cy="213.4" r="0.4" fill="#b4b4b4"/>
<circle cx="363.4" cy="202.0" r="0.4" fill="#b4b4b4"/>
<circle cx="369.7" cy="225.1" r="0.4" fill="#b4b4b4"/>
<circle cx="354.0" cy="214.5" r="0.4" fill="#b4b4b4"/>
<circle cx="340.9" cy="220.9" r="0.4" fill="#b4b4b4"/>
<circle cx="346.1" cy="227.8" r="0.4" fill="#b4b4b4"/>
<circle cx="342.2" cy="211.0" r="0.4" fill="#b4b4b4"/>
<circle cx="344.8" cy="225.8" r="0.4" fill="#b4b4b4"/>
<circle cx="354.2" cy="207.0" r="0.4" fill="#b4b4b4"/>
<circle cx="343.0" cy="221.2" r="0.4" fill="#b4b4b4"/>
<circle cx="359.9" cy="206.6" r="0.4" fill="#b4b4b4"/>
<circle cx="369.6" cy="207.3" r="0.4" fill="#b4b4b4"/>
<circle cx="350.1" cy="222.1" r="0.4" fill="#b4b4b4"/>
<circle cx="353.0" cy="206.5" r="0.4" fill="#b4b4b4"/>
<circle cx="374.6" cy="227.4" r="0.4" fill="#b4b4b4"/>
<circle cx="346.4" cy="226.1" r="0.4" fill="#b4b4b4"/>
<circle cx="348.5" cy="220.2" r="0.4" fill="#b4b4b4"/>
<circle cx="361.3" cy="225.5" r="0.4" fill="#b4b4b4"/>
<circle cx="340.2" cy="222.0" r="0.4" fill="#b4b4b4"/>
<circle cx="353.4" cy="217.8" r="0.4" fill="#b4b4b4"/>
<circle cx="374.4" cy="213.8" r="0.4" fill="#b4b4b4"/>
<path d="M320.30,229.00 C321.80,226.70 334.00,222.40 343.00,222.40 C354.10,222.40 356.60,224.70 356.60,226.60 C356.60,229.00 354.10,230.20 351.60,230.20 L322.30,230.20 Z" fill="#fff" stroke="#111" stroke-width="0.5"/>
<path d="M322.10,229.00 C323.60,226.70 334.00,222.50 343.00,222.50 C352.88,222.50 355.38,224.70 355.38,226.60 C355.38,229.00 352.88,230.20 350.38,230.20 L324.10,230.20 Z" fill="#fff" stroke="#111" stroke-width="0.5"/>
<path d="M323.85,229.00 C325.35,226.70 334.00,222.60 343.00,222.60 C351.69,222.60 354.19,224.70 354.19,226.60 C354.19,229.00 351.69,230.20 349.19,230.20 L325.85,230.20 Z" fill="#fff" stroke="#111" stroke-width="0.5"/>
<path d="M326.20,229.00 C327.70,226.70 334.00,223.70 343.00,223.70 C349.70,223.70 352.20,224.70 352.20,226.60 C352.20,229.00 349.70,230.20 347.20,230.20 L328.20,230.20 Z" fill="#050505" stroke="#050505" stroke-width="0.5"/>
<ellipse cx="352.40" cy="226.80" rx="1.3" ry="2" fill="none" stroke="#ccc" stroke-width="0.45"/>
<ellipse cx="327.20" cy="228.40" rx="1.6" ry="0.9" fill="#fff" stroke="#222" stroke-width="0.4"/>
<rect x="318.1" y="173" width="60.20" height="57.70" fill="none" stroke="#000" stroke-width="1.5"/>
<path d="M318.1,216.9 L339.6,216.9 L339.6,223.5" fill="none" stroke="#000" stroke-width="1.5"/>
<text x="322.70000000000005" y="214.8" font-size="5.0" text-anchor="start" font-family="Liberation Serif, serif" fill="#000">47.2%</text>
<line x1="315.1" y1="174.50" x2="318.1" y2="174.50" stroke="#000" stroke-width="1.3"/>
<text x="315.1" y="175.25" font-size="2.0" text-anchor="end" font-family="Liberation Serif, serif" font-weight="bold" fill="#000" stroke="#000" stroke-width="0.45">250K</text>
<line x1="315.1" y1="185.74" x2="318.1" y2="185.74" stroke="#000" stroke-width="1.3"/>
<text x="315.1" y="186.49" font-size="2.0" text-anchor="end" font-family="Liberation Serif, serif" font-weight="bold" fill="#000" stroke="#000" stroke-width="0.45">200K</text>
<line x1="315.1" y1="196.98" x2="318.1" y2="196.98" stroke="#000" stroke-width="1.3"/>
<text x="315.1" y="197.73" font-size="2.0" text-anchor="end" font-family="Liberation Serif, serif" font-weight="bold" fill="#000" stroke="#000" stroke-width="0.45">150K</text>
<line x1="315.1" y1="208.22" x2="318.1" y2="208.22" stroke="#000" stroke-width="1.3"/>
<text x="315.1" y="208.97" font-size="2.0" text-anchor="end" font-family="Liberation Serif, serif" font-weight="bold" fill="#000" stroke="#000" stroke-width="0.45">100K</text>
<line x1="315.1" y1="219.46" x2="318.1" y2="219.46" stroke="#000" stroke-width="1.3"/>
<text x="315.1" y="220.21" font-size="2.0" text-anchor="end" font-family="Liberation Serif, serif" font-weight="bold" fill="#000" stroke="#000" stroke-width="0.45">50K</text>
<line x1="315.1" y1="230.70" x2="318.1" y2="230.70" stroke="#000" stroke-width="1.3"/>
<text x="315.1" y="231.45" font-size="2.0" text-anchor="end" font-family="Liberation Serif, serif" font-weight="bold" fill="#000" stroke="#000" stroke-width="0.45">0</text>
<line x1="316.40000000000003" y1="174.50" x2="318.1" y2="174.50" stroke="#000" stroke-width="0.8"/>
<line x1="316.40000000000003" y1="176.75" x2="318.1" y2="176.75" stroke="#000" stroke-width="0.8"/>
<line x1="316.40000000000003" y1="179.00" x2="318.1" y2="179.00" stroke="#000" stroke-width="0.8"/>
<line x1="316.40000000000003" y1="181.24" x2="318.1" y2="181.24" stroke="#000" stroke-width="0.8"/>
<line x1="316.40000000000003" y1="183.49" x2="318.1" y2="183.49" stroke="#000" stroke-width="0.8"/>
<line x1="316.40000000000003" y1="185.74" x2="318.1" y2="185.74" stroke="#000" stroke-width="0.8"/>
<line x1="316.40000000000003" y1="187.99" x2="318.1" y2="187.99" stroke="#000" stroke-width="0.8"/>
<line x1="316.40000000000003" y1="190.24" x2="318.1" y2="190.24" stroke="#000" stroke-width="0.8"/>
<line x1="316.40000000000003" y1="192.48" x2="318.1" y2="192.48" stroke="#000" stroke-width="0.8"/>
<line x1="316.40000000000003" y1="194.73" x2="318.1" y2="194.73" stroke="#000" stroke-width="0.8"/>
<line x1="316.40000000000003" y1="196.98" x2="318.1" y2="196.98" stroke="#000" stroke-width="0.8"/>
<line x1="316.40000000000003" y1="199.23" x2="318.1" y2="199.23" stroke="#000" stroke-width="0.8"/>
<line x1="316.40000000000003" y1="201.48" x2="318.1" y2="201.48" stroke="#000" stroke-width="0.8"/>
<line x1="316.40000000000003" y1="203.72" x2="318.1" y2="203.72" stroke="#000" stroke-width="0.8"/>
<line x1="316.40000000000003" y1="205.97" x2="318.1" y2="205.97" stroke="#000" stroke-width="0.8"/>
<line x1="316.40000000000003" y1="208.22" x2="318.1" y2="208.22" stroke="#000" stroke-width="0.8"/>
<line x1="316.40000000000003" y1="210.47" x2="318.1" y2="210.47" stroke="#000" stroke-width="0.8"/>
<line x1="316.40000000000003" y1="212.72" x2="318.1" y2="212.72" stroke="#000" stroke-width="0.8"/>
<line x1="316.40000000000003" y1="214.96" x2="318.1" y2="214.96" stroke="#000" stroke-width="0.8"/>
<line x1="316.40000000000003" y1="217.21" x2="318.1" y2="217.21" stroke="#000" stroke-width="0.8"/>
<line x1="316.40000000000003" y1="219.46" x2="318.1" y2="219.46" stroke="#000" stroke-width="0.8"/>
<line x1="316.40000000000003" y1="221.71" x2="318.1" y2="221.71" stroke="#000" stroke-width="0.8"/>
<line x1="316.40000000000003" y1="223.96" x2="318.1" y2="223.96" stroke="#000" stroke-width="0.8"/>
<line x1="316.40000000000003" y1="226.20" x2="318.1" y2="226.20" stroke="#000" stroke-width="0.8"/>
<line x1="316.40000000000003" y1="228.45" x2="318.1" y2="228.45" stroke="#000" stroke-width="0.8"/>
<line x1="316.40000000000003" y1="230.70" x2="318.1" y2="230.70" stroke="#000" stroke-width="0.8"/>
<line x1="320.90" y1="230.7" x2="320.90" y2="233.1" stroke="#000" stroke-width="1.1"/>
<text x="321.10" y="236.29999999999998" font-size="2.7" text-anchor="middle" font-family="Liberation Serif, serif" font-weight="bold" fill="#000" stroke="#000" stroke-width="0.4">10</text>
<text x="323.00" y="234.89999999999998" font-size="1.8" text-anchor="middle" font-family="Liberation Serif, serif" font-weight="bold" fill="#000" stroke="#000" stroke-width="0.4">1</text>
<line x1="334.55" y1="230.7" x2="334.55" y2="233.1" stroke="#000" stroke-width="1.1"/>
<text x="334.75" y="236.29999999999998" font-size="2.7" text-anchor="middle" font-family="Liberation Serif, serif" font-weight="bold" fill="#000" stroke="#000" stroke-width="0.4">10</text>
<text x="336.65" y="234.89999999999998" font-size="1.8" text-anchor="middle" font-family="Liberation Serif, serif" font-weight="bold" fill="#000" stroke="#000" stroke-width="0.4">2</text>
<line x1="348.20" y1="230.7" x2="348.20" y2="233.1" stroke="#000" stroke-width="1.1"/>
<text x="348.40" y="236.29999999999998" font-size="2.7" text-anchor="middle" font-family="Liberation Serif, serif" font-weight="bold" fill="#000" stroke="#000" stroke-width="0.4">10</text>
<text x="350.30" y="234.89999999999998" font-size="1.8" text-anchor="middle" font-family="Liberation Serif, serif" font-weight="bold" fill="#000" stroke="#000" stroke-width="0.4">3</text>
<line x1="361.85" y1="230.7" x2="361.85" y2="233.1" stroke="#000" stroke-width="1.1"/>
<text x="362.05" y="236.29999999999998" font-size="2.7" text-anchor="middle" font-family="Liberation Serif, serif" font-weight="bold" fill="#000" stroke="#000" stroke-width="0.4">10</text>
<text x="363.95" y="234.89999999999998" font-size="1.8" text-anchor="middle" font-family="Liberation Serif, serif" font-weight="bold" fill="#000" stroke="#000" stroke-width="0.4">4</text>
<line x1="375.50" y1="230.7" x2="375.50" y2="233.1" stroke="#000" stroke-width="1.1"/>
<text x="375.70" y="236.29999999999998" font-size="2.7" text-anchor="middle" font-family="Liberation Serif, serif" font-weight="bold" fill="#000" stroke="#000" stroke-width="0.4">10</text>
<text x="377.60" y="234.89999999999998" font-size="1.8" text-anchor="middle" font-family="Liberation Serif, serif" font-weight="bold" fill="#000" stroke="#000" stroke-width="0.4">5</text>
<line x1="325.01" y1="230.7" x2="325.01" y2="232.29999999999998" stroke="#000" stroke-width="0.75"/>
<line x1="327.41" y1="230.7" x2="327.41" y2="232.29999999999998" stroke="#000" stroke-width="0.75"/>
<line x1="329.12" y1="230.7" x2="329.12" y2="232.29999999999998" stroke="#000" stroke-width="0.75"/>
<line x1="330.44" y1="230.7" x2="330.44" y2="232.29999999999998" stroke="#000" stroke-width="0.75"/>
<line x1="331.52" y1="230.7" x2="331.52" y2="232.29999999999998" stroke="#000" stroke-width="0.75"/>
<line x1="332.44" y1="230.7" x2="332.44" y2="232.29999999999998" stroke="#000" stroke-width="0.75"/>
<line x1="333.23" y1="230.7" x2="333.23" y2="232.29999999999998" stroke="#000" stroke-width="0.75"/>
<line x1="333.93" y1="230.7" x2="333.93" y2="232.29999999999998" stroke="#000" stroke-width="0.75"/>
<line x1="338.66" y1="230.7" x2="338.66" y2="232.29999999999998" stroke="#000" stroke-width="0.75"/>
<line x1="341.06" y1="230.7" x2="341.06" y2="232.29999999999998" stroke="#000" stroke-width="0.75"/>
<line x1="342.77" y1="230.7" x2="342.77" y2="232.29999999999998" stroke="#000" stroke-width="0.75"/>
<line x1="344.09" y1="230.7" x2="344.09" y2="232.29999999999998" stroke="#000" stroke-width="0.75"/>
<line x1="345.17" y1="230.7" x2="345.17" y2="232.29999999999998" stroke="#000" stroke-width="0.75"/>
<line x1="346.09" y1="230.7" x2="346.09" y2="232.29999999999998" stroke="#000" stroke-width="0.75"/>
<line x1="346.88" y1="230.7" x2="346.88" y2="232.29999999999998" stroke="#000" stroke-width="0.75"/>
<line x1="347.58" y1="230.7" x2="347.58" y2="232.29999999999998" stroke="#000" stroke-width="0.75"/>
<line x1="352.31" y1="230.7" x2="352.31" y2="232.29999999999998" stroke="#000" stroke-width="0.75"/>
<line x1="354.71" y1="230.7" x2="354.71" y2="232.29999999999998" stroke="#000" stroke-width="0.75"/>
<line x1="356.42" y1="230.7" x2="356.42" y2="232.29999999999998" stroke="#000" stroke-width="0.75"/>
<line x1="357.74" y1="230.7" x2="357.74" y2="232.29999999999998" stroke="#000" stroke-width="0.75"/>
<line x1="358.82" y1="230.7" x2="358.82" y2="232.29999999999998" stroke="#000" stroke-width="0.75"/>
<line x1="359.74" y1="230.7" x2="359.74" y2="232.29999999999998" stroke="#000" stroke-width="0.75"/>
<line x1="360.53" y1="230.7" x2="360.53" y2="232.29999999999998" stroke="#000" stroke-width="0.75"/>
<line x1="361.23" y1="230.7" x2="361.23" y2="232.29999999999998" stroke="#000" stroke-width="0.75"/>
<line x1="365.96" y1="230.7" x2="365.96" y2="232.29999999999998" stroke="#000" stroke-width="0.75"/>
<line x1="368.36" y1="230.7" x2="368.36" y2="232.29999999999998" stroke="#000" stroke-width="0.75"/>
<line x1="370.07" y1="230.7" x2="370.07" y2="232.29999999999998" stroke="#000" stroke-width="0.75"/>
<line x1="371.39" y1="230.7" x2="371.39" y2="232.29999999999998" stroke="#000" stroke-width="0.75"/>
<line x1="372.47" y1="230.7" x2="372.47" y2="232.29999999999998" stroke="#000" stroke-width="0.75"/>
<line x1="373.39" y1="230.7" x2="373.39" y2="232.29999999999998" stroke="#000" stroke-width="0.75"/>
<line x1="374.18" y1="230.7" x2="374.18" y2="232.29999999999998" stroke="#000" stroke-width="0.75"/>
<line x1="374.88" y1="230.7" x2="374.88" y2="232.29999999999998" stroke="#000" stroke-width="0.75"/>
<text x="345.6" y="167.4" font-size="8.2" text-anchor="middle" font-family="Liberation Serif, serif" fill="#000">Control</text>
<circle cx="428.6" cy="216.2" r="0.4" fill="#b4b4b4"/>
<circle cx="434.3" cy="228.4" r="0.4" fill="#b4b4b4"/>
<circle cx="442.4" cy="210.6" r="0.4" fill="#b4b4b4"/>
<circle cx="441.5" cy="209.9" r="0.4" fill="#b4b4b4"/>
<circle cx="424.1" cy="222.5" r="0.4" fill="#b4b4b4"/>
<circle cx="413.7" cy="215.7" r="0.4" fill="#b4b4b4"/>
<circle cx="412.2" cy="228.3" r="0.4" fill="#b4b4b4"/>
<circle cx="417.5" cy="227.2" r="0.4" fill="#b4b4b4"/>
<circle cx="422.2" cy="228.5" r="0.4" fill="#b4b4b4"/>
<circle cx="410.0" cy="227.4" r="0.4" fill="#b4b4b4"/>
<circle cx="413.7" cy="223.3" r="0.4" fill="#b4b4b4"/>
<circle cx="410.9" cy="206.9" r="0.4" fill="#b4b4b4"/>
<circle cx="432.1" cy="227.4" r="0.4" fill="#b4b4b4"/>
<circle cx="419.1" cy="223.7" r="0.4" fill="#b4b4b4"/>
<circle cx="423.1" cy="227.8" r="0.4" fill="#b4b4b4"/>
<circle cx="440.6" cy="202.0" r="0.4" fill="#b4b4b4"/>
<circle cx="426.8" cy="220.2" r="0.4" fill="#b4b4b4"/>
<circle cx="413.1" cy="228.0" r="0.4" fill="#b4b4b4"/>
<circle cx="422.3" cy="225.5" r="0.4" fill="#b4b4b4"/>
<circle cx="439.8" cy="227.2" r="0.4" fill="#b4b4b4"/>
<circle cx="410.8" cy="203.8" r="0.4" fill="#b4b4b4"/>
<circle cx="429.0" cy="227.4" r="0.4" fill="#b4b4b4"/>
<circle cx="429.6" cy="228.6" r="0.4" fill="#b4b4b4"/>
<circle cx="429.0" cy="202.6" r="0.4" fill="#b4b4b4"/>
<circle cx="441.1" cy="213.6" r="0.4" fill="#b4b4b4"/>
<circle cx="419.4" cy="223.3" r="0.4" fill="#b4b4b4"/>
<circle cx="416.0" cy="210.9" r="0.4" fill="#b4b4b4"/>
<circle cx="429.2" cy="210.6" r="0.4" fill="#b4b4b4"/>
<circle cx="421.9" cy="226.3" r="0.4" fill="#b4b4b4"/>
<circle cx="439.2" cy="202.3" r="0.4" fill="#b4b4b4"/>
<circle cx="440.7" cy="209.6" r="0.4" fill="#b4b4b4"/>
<circle cx="439.5" cy="212.0" r="0.4" fill="#b4b4b4"/>
<circle cx="418.2" cy="219.3" r="0.4" fill="#b4b4b4"/>
<circle cx="422.8" cy="228.6" r="0.4" fill="#b4b4b4"/>
<circle cx="411.0" cy="225.2" r="0.4" fill="#b4b4b4"/>
<circle cx="419.3" cy="213.7" r="0.4" fill="#b4b4b4"/>
<circle cx="444.4" cy="221.2" r="0.4" fill="#b4b4b4"/>
<circle cx="443.7" cy="202.2" r="0.4" fill="#b4b4b4"/>
<circle cx="444.4" cy="223.3" r="0.4" fill="#b4b4b4"/>
<circle cx="417.9" cy="226.2" r="0.4" fill="#b4b4b4"/>
<circle cx="417.1" cy="226.6" r="0.4" fill="#b4b4b4"/>
<circle cx="432.5" cy="205.9" r="0.4" fill="#b4b4b4"/>
<circle cx="440.3" cy="220.4" r="0.4" fill="#b4b4b4"/>
<circle cx="433.5" cy="209.8" r="0.4" fill="#b4b4b4"/>
<circle cx="413.1" cy="214.8" r="0.4" fill="#b4b4b4"/>
<circle cx="442.8" cy="210.5" r="0.4" fill="#b4b4b4"/>
<path d="M390.40,229.00 C391.90,226.70 404.00,223.00 413.00,223.00 C421.50,223.00 424.00,224.70 424.00,226.60 C424.00,229.00 421.50,230.20 419.00,230.20 L392.40,230.20 Z" fill="#fff" stroke="#111" stroke-width="0.5"/>
<path d="M392.17,229.00 C393.67,226.70 404.00,223.10 413.00,223.10 C420.14,223.10 422.64,224.70 422.64,226.60 C422.64,229.00 420.14,230.20 417.64,230.20 L394.17,230.20 Z" fill="#fff" stroke="#111" stroke-width="0.5"/>
<path d="M393.88,229.00 C395.38,226.70 404.00,223.20 413.00,223.20 C418.82,223.20 421.32,224.70 421.32,226.60 C421.32,229.00 418.82,230.20 416.32,230.20 L395.88,230.20 Z" fill="#fff" stroke="#111" stroke-width="0.5"/>
<path d="M396.20,229.00 C397.70,226.70 404.00,224.30 413.00,224.30 C416.70,224.30 419.20,224.70 419.20,226.60 C419.20,229.00 416.70,230.20 414.20,230.20 L398.20,230.20 Z" fill="#050505" stroke="#050505" stroke-width="0.5"/>
<ellipse cx="419.40" cy="226.80" rx="1.3" ry="2" fill="none" stroke="#ccc" stroke-width="0.45"/>
<ellipse cx="397.20" cy="228.40" rx="1.6" ry="0.9" fill="#fff" stroke="#222" stroke-width="0.4"/>
<rect x="388" y="173" width="59.40" height="57.70" fill="none" stroke="#000" stroke-width="1.5"/>
<path d="M388,216.9 L409.6,216.9 L409.6,223.5" fill="none" stroke="#000" stroke-width="1.5"/>
<text x="392.6" y="214.8" font-size="5.0" text-anchor="start" font-family="Liberation Serif, serif" fill="#000">58.1%</text>
<line x1="385.0" y1="174.50" x2="388" y2="174.50" stroke="#000" stroke-width="1.3"/>
<text x="385.0" y="175.25" font-size="2.0" text-anchor="end" font-family="Liberation Serif, serif" font-weight="bold" fill="#000" stroke="#000" stroke-width="0.45">250K</text>
<line x1="385.0" y1="185.74" x2="388" y2="185.74" stroke="#000" stroke-width="1.3"/>
<text x="385.0" y="186.49" font-size="2.0" text-anchor="end" font-family="Liberation Serif, serif" font-weight="bold" fill="#000" stroke="#000" stroke-width="0.45">200K</text>
<line x1="385.0" y1="196.98" x2="388" y2="196.98" stroke="#000" stroke-width="1.3"/>
<text x="385.0" y="197.73" font-size="2.0" text-anchor="end" font-family="Liberation Serif, serif" font-weight="bold" fill="#000" stroke="#000" stroke-width="0.45">150K</text>
<line x1="385.0" y1="208.22" x2="388" y2="208.22" stroke="#000" stroke-width="1.3"/>
<text x="385.0" y="208.97" font-size="2.0" text-anchor="end" font-family="Liberation Serif, serif" font-weight="bold" fill="#000" stroke="#000" stroke-width="0.45">100K</text>
<line x1="385.0" y1="219.46" x2="388" y2="219.46" stroke="#000" stroke-width="1.3"/>
<text x="385.0" y="220.21" font-size="2.0" text-anchor="end" font-family="Liberation Serif, serif" font-weight="bold" fill="#000" stroke="#000" stroke-width="0.45">50K</text>
<line x1="385.0" y1="230.70" x2="388" y2="230.70" stroke="#000" stroke-width="1.3"/>
<text x="385.0" y="231.45" font-size="2.0" text-anchor="end" font-family="Liberation Serif, serif" font-weight="bold" fill="#000" stroke="#000" stroke-width="0.45">0</text>
<line x1="386.3" y1="174.50" x2="388" y2="174.50" stroke="#000" stroke-width="0.8"/>
<line x1="386.3" y1="176.75" x2="388" y2="176.75" stroke="#000" stroke-width="0.8"/>
<line x1="386.3" y1="179.00" x2="388" y2="179.00" stroke="#000" stroke-width="0.8"/>
<line x1="386.3" y1="181.24" x2="388" y2="181.24" stroke="#000" stroke-width="0.8"/>
<line x1="386.3" y1="183.49" x2="388" y2="183.49" stroke="#000" stroke-width="0.8"/>
<line x1="386.3" y1="185.74" x2="388" y2="185.74" stroke="#000" stroke-width="0.8"/>
<line x1="386.3" y1="187.99" x2="388" y2="187.99" stroke="#000" stroke-width="0.8"/>
<line x1="386.3" y1="190.24" x2="388" y2="190.24" stroke="#000" stroke-width="0.8"/>
<line x1="386.3" y1="192.48" x2="388" y2="192.48" stroke="#000" stroke-width="0.8"/>
<line x1="386.3" y1="194.73" x2="388" y2="194.73" stroke="#000" stroke-width="0.8"/>
<line x1="386.3" y1="196.98" x2="388" y2="196.98" stroke="#000" stroke-width="0.8"/>
<line x1="386.3" y1="199.23" x2="388" y2="199.23" stroke="#000" stroke-width="0.8"/>
<line x1="386.3" y1="201.48" x2="388" y2="201.48" stroke="#000" stroke-width="0.8"/>
<line x1="386.3" y1="203.72" x2="388" y2="203.72" stroke="#000" stroke-width="0.8"/>
<line x1="386.3" y1="205.97" x2="388" y2="205.97" stroke="#000" stroke-width="0.8"/>
<line x1="386.3" y1="208.22" x2="388" y2="208.22" stroke="#000" stroke-width="0.8"/>
<line x1="386.3" y1="210.47" x2="388" y2="210.47" stroke="#000" stroke-width="0.8"/>
<line x1="386.3" y1="212.72" x2="388" y2="212.72" stroke="#000" stroke-width="0.8"/>
<line x1="386.3" y1="214.96" x2="388" y2="214.96" stroke="#000" stroke-width="0.8"/>
<line x1="386.3" y1="217.21" x2="388" y2="217.21" stroke="#000" stroke-width="0.8"/>
<line x1="386.3" y1="219.46" x2="388" y2="219.46" stroke="#000" stroke-width="0.8"/>
<line x1="386.3" y1="221.71" x2="388" y2="221.71" stroke="#000" stroke-width="0.8"/>
<line x1="386.3" y1="223.96" x2="388" y2="223.96" stroke="#000" stroke-width="0.8"/>
<line x1="386.3" y1="226.20" x2="388" y2="226.20" stroke="#000" stroke-width="0.8"/>
<line x1="386.3" y1="228.45" x2="388" y2="228.45" stroke="#000" stroke-width="0.8"/>
<line x1="386.3" y1="230.70" x2="388" y2="230.70" stroke="#000" stroke-width="0.8"/>
<line x1="390.80" y1="230.7" x2="390.80" y2="233.1" stroke="#000" stroke-width="1.1"/>
<text x="391.00" y="236.29999999999998" font-size="2.7" text-anchor="middle" font-family="Liberation Serif, serif" font-weight="bold" fill="#000" stroke="#000" stroke-width="0.4">10</text>
<text x="392.90" y="234.89999999999998" font-size="1.8" text-anchor="middle" font-family="Liberation Serif, serif" font-weight="bold" fill="#000" stroke="#000" stroke-width="0.4">1</text>
<line x1="404.25" y1="230.7" x2="404.25" y2="233.1" stroke="#000" stroke-width="1.1"/>
<text x="404.45" y="236.29999999999998" font-size="2.7" text-anchor="middle" font-family="Liberation Serif, serif" font-weight="bold" fill="#000" stroke="#000" stroke-width="0.4">10</text>
<text x="406.35" y="234.89999999999998" font-size="1.8" text-anchor="middle" font-family="Liberation Serif, serif" font-weight="bold" fill="#000" stroke="#000" stroke-width="0.4">2</text>
<line x1="417.70" y1="230.7" x2="417.70" y2="233.1" stroke="#000" stroke-width="1.1"/>
<text x="417.90" y="236.29999999999998" font-size="2.7" text-anchor="middle" font-family="Liberation Serif, serif" font-weight="bold" fill="#000" stroke="#000" stroke-width="0.4">10</text>
<text x="419.80" y="234.89999999999998" font-size="1.8" text-anchor="middle" font-family="Liberation Serif, serif" font-weight="bold" fill="#000" stroke="#000" stroke-width="0.4">3</text>
<line x1="431.15" y1="230.7" x2="431.15" y2="233.1" stroke="#000" stroke-width="1.1"/>
<text x="431.35" y="236.29999999999998" font-size="2.7" text-anchor="middle" font-family="Liberation Serif, serif" font-weight="bold" fill="#000" stroke="#000" stroke-width="0.4">10</text>
<text x="433.25" y="234.89999999999998" font-size="1.8" text-anchor="middle" font-family="Liberation Serif, serif" font-weight="bold" fill="#000" stroke="#000" stroke-width="0.4">4</text>
<line x1="444.60" y1="230.7" x2="444.60" y2="233.1" stroke="#000" stroke-width="1.1"/>
<text x="444.80" y="236.29999999999998" font-size="2.7" text-anchor="middle" font-family="Liberation Serif, serif" font-weight="bold" fill="#000" stroke="#000" stroke-width="0.4">10</text>
<text x="446.70" y="234.89999999999998" font-size="1.8" text-anchor="middle" font-family="Liberation Serif, serif" font-weight="bold" fill="#000" stroke="#000" stroke-width="0.4">5</text>
<line x1="394.85" y1="230.7" x2="394.85" y2="232.29999999999998" stroke="#000" stroke-width="0.75"/>
<line x1="397.22" y1="230.7" x2="397.22" y2="232.29999999999998" stroke="#000" stroke-width="0.75"/>
<line x1="398.90" y1="230.7" x2="398.90" y2="232.29999999999998" stroke="#000" stroke-width="0.75"/>
<line x1="400.20" y1="230.7" x2="400.20" y2="232.29999999999998" stroke="#000" stroke-width="0.75"/>
<line x1="401.27" y1="230.7" x2="401.27" y2="232.29999999999998" stroke="#000" stroke-width="0.75"/>
<line x1="402.17" y1="230.7" x2="402.17" y2="232.29999999999998" stroke="#000" stroke-width="0.75"/>
<line x1="402.95" y1="230.7" x2="402.95" y2="232.29999999999998" stroke="#000" stroke-width="0.75"/>
<line x1="403.63" y1="230.7" x2="403.63" y2="232.29999999999998" stroke="#000" stroke-width="0.75"/>
<line x1="408.30" y1="230.7" x2="408.30" y2="232.29999999999998" stroke="#000" stroke-width="0.75"/>
<line x1="410.67" y1="230.7" x2="410.67" y2="232.29999999999998" stroke="#000" stroke-width="0.75"/>
<line x1="412.35" y1="230.7" x2="412.35" y2="232.29999999999998" stroke="#000" stroke-width="0.75"/>
<line x1="413.65" y1="230.7" x2="413.65" y2="232.29999999999998" stroke="#000" stroke-width="0.75"/>
<line x1="414.72" y1="230.7" x2="414.72" y2="232.29999999999998" stroke="#000" stroke-width="0.75"/>
<line x1="415.62" y1="230.7" x2="415.62" y2="232.29999999999998" stroke="#000" stroke-width="0.75"/>
<line x1="416.40" y1="230.7" x2="416.40" y2="232.29999999999998" stroke="#000" stroke-width="0.75"/>
<line x1="417.08" y1="230.7" x2="417.08" y2="232.29999999999998" stroke="#000" stroke-width="0.75"/>
<line x1="421.75" y1="230.7" x2="421.75" y2="232.29999999999998" stroke="#000" stroke-width="0.75"/>
<line x1="424.12" y1="230.7" x2="424.12" y2="232.29999999999998" stroke="#000" stroke-width="0.75"/>
<line x1="425.80" y1="230.7" x2="425.80" y2="232.29999999999998" stroke="#000" stroke-width="0.75"/>
<line x1="427.10" y1="230.7" x2="427.10" y2="232.29999999999998" stroke="#000" stroke-width="0.75"/>
<line x1="428.17" y1="230.7" x2="428.17" y2="232.29999999999998" stroke="#000" stroke-width="0.75"/>
<line x1="429.07" y1="230.7" x2="429.07" y2="232.29999999999998" stroke="#000" stroke-width="0.75"/>
<line x1="429.85" y1="230.7" x2="429.85" y2="232.29999999999998" stroke="#000" stroke-width="0.75"/>
<line x1="430.53" y1="230.7" x2="430.53" y2="232.29999999999998" stroke="#000" stroke-width="0.75"/>
<line x1="435.20" y1="230.7" x2="435.20" y2="232.29999999999998" stroke="#000" stroke-width="0.75"/>
<line x1="437.57" y1="230.7" x2="437.57" y2="232.29999999999998" stroke="#000" stroke-width="0.75"/>
<line x1="439.25" y1="230.7" x2="439.25" y2="232.29999999999998" stroke="#000" stroke-width="0.75"/>
<line x1="440.55" y1="230.7" x2="440.55" y2="232.29999999999998" stroke="#000" stroke-width="0.75"/>
<line x1="441.62" y1="230.7" x2="441.62" y2="232.29999999999998" stroke="#000" stroke-width="0.75"/>
<line x1="442.52" y1="230.7" x2="442.52" y2="232.29999999999998" stroke="#000" stroke-width="0.75"/>
<line x1="443.30" y1="230.7" x2="443.30" y2="232.29999999999998" stroke="#000" stroke-width="0.75"/>
<line x1="443.98" y1="230.7" x2="443.98" y2="232.29999999999998" stroke="#000" stroke-width="0.75"/>
<text x="417" y="167.4" font-size="8.2" text-anchor="middle" font-family="Liberation Serif, serif" fill="#000">PKBinh 24h</text>
<circle cx="507.0" cy="220.4" r="0.4" fill="#b4b4b4"/>
<circle cx="486.4" cy="210.2" r="0.4" fill="#b4b4b4"/>
<circle cx="492.0" cy="209.8" r="0.4" fill="#b4b4b4"/>
<circle cx="515.0" cy="222.6" r="0.4" fill="#b4b4b4"/>
<circle cx="494.4" cy="204.0" r="0.4" fill="#b4b4b4"/>
<circle cx="506.1" cy="227.1" r="0.4" fill="#b4b4b4"/>
<circle cx="484.6" cy="227.4" r="0.4" fill="#b4b4b4"/>
<circle cx="512.6" cy="209.6" r="0.4" fill="#b4b4b4"/>
<circle cx="485.3" cy="208.8" r="0.4" fill="#b4b4b4"/>
<circle cx="515.3" cy="214.9" r="0.4" fill="#b4b4b4"/>
<circle cx="492.6" cy="218.4" r="0.4" fill="#b4b4b4"/>
<circle cx="484.7" cy="228.7" r="0.4" fill="#b4b4b4"/>
<circle cx="515.0" cy="215.2" r="0.4" fill="#b4b4b4"/>
<circle cx="499.0" cy="204.5" r="0.4" fill="#b4b4b4"/>
<circle cx="495.6" cy="207.0" r="0.4" fill="#b4b4b4"/>
<circle cx="509.7" cy="226.5" r="0.4" fill="#b4b4b4"/>
<circle cx="489.1" cy="224.9" r="0.4" fill="#b4b4b4"/>
<circle cx="488.7" cy="217.2" r="0.4" fill="#b4b4b4"/>
<circle cx="489.3" cy="222.0" r="0.4" fill="#b4b4b4"/>
<circle cx="484.7" cy="205.5" r="0.4" fill="#b4b4b4"/>
<circle cx="492.7" cy="221.0" r="0.4" fill="#b4b4b4"/>
<circle cx="501.0" cy="205.7" r="0.4" fill="#b4b4b4"/>
<circle cx="495.1" cy="205.2" r="0.4" fill="#b4b4b4"/>
<circle cx="498.1" cy="218.9" r="0.4" fill="#b4b4b4"/>
<circle cx="498.8" cy="228.7" r="0.4" fill="#b4b4b4"/>
<circle cx="495.8" cy="226.9" r="0.4" fill="#b4b4b4"/>
<circle cx="480.1" cy="209.8" r="0.4" fill="#b4b4b4"/>
<circle cx="486.2" cy="220.5" r="0.4" fill="#b4b4b4"/>
<circle cx="506.1" cy="218.1" r="0.4" fill="#b4b4b4"/>
<circle cx="491.7" cy="219.3" r="0.4" fill="#b4b4b4"/>
<circle cx="500.0" cy="210.4" r="0.4" fill="#b4b4b4"/>
<circle cx="483.8" cy="218.0" r="0.4" fill="#b4b4b4"/>
<circle cx="488.9" cy="225.2" r="0.4" fill="#b4b4b4"/>
<circle cx="507.8" cy="219.6" r="0.4" fill="#b4b4b4"/>
<circle cx="500.2" cy="211.3" r="0.4" fill="#b4b4b4"/>
<circle cx="512.8" cy="221.4" r="0.4" fill="#b4b4b4"/>
<circle cx="502.1" cy="219.6" r="0.4" fill="#b4b4b4"/>
<circle cx="498.4" cy="213.7" r="0.4" fill="#b4b4b4"/>
<circle cx="496.3" cy="218.8" r="0.4" fill="#b4b4b4"/>
<circle cx="497.2" cy="204.2" r="0.4" fill="#b4b4b4"/>
<circle cx="505.2" cy="206.8" r="0.4" fill="#b4b4b4"/>
<circle cx="513.9" cy="225.6" r="0.4" fill="#b4b4b4"/>
<circle cx="500.1" cy="204.1" r="0.4" fill="#b4b4b4"/>
<circle cx="510.2" cy="227.6" r="0.4" fill="#b4b4b4"/>
<circle cx="484.4" cy="221.4" r="0.4" fill="#b4b4b4"/>
<circle cx="482.6" cy="225.9" r="0.4" fill="#b4b4b4"/>
<path d="M459.80,229.00 C461.30,226.70 474.60,223.60 483.60,223.60 C489.90,223.60 492.40,224.70 492.40,226.60 C492.40,229.00 489.90,230.20 487.40,230.20 L461.80,230.20 Z" fill="#fff" stroke="#111" stroke-width="0.5"/>
<path d="M461.43,229.00 C462.93,226.70 474.60,223.70 483.60,223.70 C488.06,223.70 490.56,224.70 490.56,226.60 C490.56,229.00 488.06,230.20 485.56,230.20 L463.43,230.20 Z" fill="#fff" stroke="#111" stroke-width="0.5"/>
<path d="M463.02,229.00 C464.52,226.70 474.60,223.80 483.60,223.80 C486.28,223.80 488.78,224.70 488.78,226.60 C488.78,229.00 486.28,230.20 483.78,230.20 L465.02,230.20 Z" fill="#fff" stroke="#111" stroke-width="0.5"/>
<path d="M465.20,229.00 C466.70,226.70 474.60,224.90 483.60,224.90 C483.70,224.90 486.20,224.70 486.20,226.60 C486.20,229.00 483.70,230.20 481.20,230.20 L467.20,230.20 Z" fill="#050505" stroke="#050505" stroke-width="0.5"/>
<ellipse cx="486.40" cy="226.80" rx="1.3" ry="2" fill="none" stroke="#ccc" stroke-width="0.45"/>
<ellipse cx="466.20" cy="228.40" rx="1.6" ry="0.9" fill="#fff" stroke="#222" stroke-width="0.4"/>
<rect x="458" y="173" width="58.70" height="57.70" fill="none" stroke="#000" stroke-width="1.5"/>
<path d="M458,216.9 L479.6,216.9 L479.6,223.5" fill="none" stroke="#000" stroke-width="1.5"/>
<text x="462.6" y="214.8" font-size="5.0" text-anchor="start" font-family="Liberation Serif, serif" fill="#000">68.0%</text>
<line x1="455.0" y1="174.50" x2="458" y2="174.50" stroke="#000" stroke-width="1.3"/>
<text x="455.0" y="175.25" font-size="2.0" text-anchor="end" font-family="Liberation Serif, serif" font-weight="bold" fill="#000" stroke="#000" stroke-width="0.45">250K</text>
<line x1="455.0" y1="185.74" x2="458" y2="185.74" stroke="#000" stroke-width="1.3"/>
<text x="455.0" y="186.49" font-size="2.0" text-anchor="end" font-family="Liberation Serif, serif" font-weight="bold" fill="#000" stroke="#000" stroke-width="0.45">200K</text>
<line x1="455.0" y1="196.98" x2="458" y2="196.98" stroke="#000" stroke-width="1.3"/>
<text x="455.0" y="197.73" font-size="2.0" text-anchor="end" font-family="Liberation Serif, serif" font-weight="bold" fill="#000" stroke="#000" stroke-width="0.45">150K</text>
<line x1="455.0" y1="208.22" x2="458" y2="208.22" stroke="#000" stroke-width="1.3"/>
<text x="455.0" y="208.97" font-size="2.0" text-anchor="end" font-family="Liberation Serif, serif" font-weight="bold" fill="#000" stroke="#000" stroke-width="0.45">100K</text>
<line x1="455.0" y1="219.46" x2="458" y2="219.46" stroke="#000" stroke-width="1.3"/>
<text x="455.0" y="220.21" font-size="2.0" text-anchor="end" font-family="Liberation Serif, serif" font-weight="bold" fill="#000" stroke="#000" stroke-width="0.45">50K</text>
<line x1="455.0" y1="230.70" x2="458" y2="230.70" stroke="#000" stroke-width="1.3"/>
<text x="455.0" y="231.45" font-size="2.0" text-anchor="end" font-family="Liberation Serif, serif" font-weight="bold" fill="#000" stroke="#000" stroke-width="0.45">0</text>
<line x1="456.3" y1="174.50" x2="458" y2="174.50" stroke="#000" stroke-width="0.8"/>
<line x1="456.3" y1="176.75" x2="458" y2="176.75" stroke="#000" stroke-width="0.8"/>
<line x1="456.3" y1="179.00" x2="458" y2="179.00" stroke="#000" stroke-width="0.8"/>
<line x1="456.3" y1="181.24" x2="458" y2="181.24" stroke="#000" stroke-width="0.8"/>
<line x1="456.3" y1="183.49" x2="458" y2="183.49" stroke="#000" stroke-width="0.8"/>
<line x1="456.3" y1="185.74" x2="458" y2="185.74" stroke="#000" stroke-width="0.8"/>
<line x1="456.3" y1="187.99" x2="458" y2="187.99" stroke="#000" stroke-width="0.8"/>
<line x1="456.3" y1="190.24" x2="458" y2="190.24" stroke="#000" stroke-width="0.8"/>
<line x1="456.3" y1="192.48" x2="458" y2="192.48" stroke="#000" stroke-width="0.8"/>
<line x1="456.3" y1="194.73" x2="458" y2="194.73" stroke="#000" stroke-width="0.8"/>
<line x1="456.3" y1="196.98" x2="458" y2="196.98" stroke="#000" stroke-width="0.8"/>
<line x1="456.3" y1="199.23" x2="458" y2="199.23" stroke="#000" stroke-width="0.8"/>
<line x1="456.3" y1="201.48" x2="458" y2="201.48" stroke="#000" stroke-width="0.8"/>
<line x1="456.3" y1="203.72" x2="458" y2="203.72" stroke="#000" stroke-width="0.8"/>
<line x1="456.3" y1="205.97" x2="458" y2="205.97" stroke="#000" stroke-width="0.8"/>
<line x1="456.3" y1="208.22" x2="458" y2="208.22" stroke="#000" stroke-width="0.8"/>
<line x1="456.3" y1="210.47" x2="458" y2="210.47" stroke="#000" stroke-width="0.8"/>
<line x1="456.3" y1="212.72" x2="458" y2="212.72" stroke="#000" stroke-width="0.8"/>
<line x1="456.3" y1="214.96" x2="458" y2="214.96" stroke="#000" stroke-width="0.8"/>
<line x1="456.3" y1="217.21" x2="458" y2="217.21" stroke="#000" stroke-width="0.8"/>
<line x1="456.3" y1="219.46" x2="458" y2="219.46" stroke="#000" stroke-width="0.8"/>
<line x1="456.3" y1="221.71" x2="458" y2="221.71" stroke="#000" stroke-width="0.8"/>
<line x1="456.3" y1="223.96" x2="458" y2="223.96" stroke="#000" stroke-width="0.8"/>
<line x1="456.3" y1="226.20" x2="458" y2="226.20" stroke="#000" stroke-width="0.8"/>
<line x1="456.3" y1="228.45" x2="458" y2="228.45" stroke="#000" stroke-width="0.8"/>
<line x1="456.3" y1="230.70" x2="458" y2="230.70" stroke="#000" stroke-width="0.8"/>
<line x1="460.80" y1="230.7" x2="460.80" y2="233.1" stroke="#000" stroke-width="1.1"/>
<text x="461.00" y="236.29999999999998" font-size="2.7" text-anchor="middle" font-family="Liberation Serif, serif" font-weight="bold" fill="#000" stroke="#000" stroke-width="0.4">10</text>
<text x="462.90" y="234.89999999999998" font-size="1.8" text-anchor="middle" font-family="Liberation Serif, serif" font-weight="bold" fill="#000" stroke="#000" stroke-width="0.4">1</text>
<line x1="474.08" y1="230.7" x2="474.08" y2="233.1" stroke="#000" stroke-width="1.1"/>
<text x="474.28" y="236.29999999999998" font-size="2.7" text-anchor="middle" font-family="Liberation Serif, serif" font-weight="bold" fill="#000" stroke="#000" stroke-width="0.4">10</text>
<text x="476.18" y="234.89999999999998" font-size="1.8" text-anchor="middle" font-family="Liberation Serif, serif" font-weight="bold" fill="#000" stroke="#000" stroke-width="0.4">2</text>
<line x1="487.35" y1="230.7" x2="487.35" y2="233.1" stroke="#000" stroke-width="1.1"/>
<text x="487.55" y="236.29999999999998" font-size="2.7" text-anchor="middle" font-family="Liberation Serif, serif" font-weight="bold" fill="#000" stroke="#000" stroke-width="0.4">10</text>
<text x="489.45" y="234.89999999999998" font-size="1.8" text-anchor="middle" font-family="Liberation Serif, serif" font-weight="bold" fill="#000" stroke="#000" stroke-width="0.4">3</text>
<line x1="500.63" y1="230.7" x2="500.63" y2="233.1" stroke="#000" stroke-width="1.1"/>
<text x="500.83" y="236.29999999999998" font-size="2.7" text-anchor="middle" font-family="Liberation Serif, serif" font-weight="bold" fill="#000" stroke="#000" stroke-width="0.4">10</text>
<text x="502.73" y="234.89999999999998" font-size="1.8" text-anchor="middle" font-family="Liberation Serif, serif" font-weight="bold" fill="#000" stroke="#000" stroke-width="0.4">4</text>
<line x1="513.90" y1="230.7" x2="513.90" y2="233.1" stroke="#000" stroke-width="1.1"/>
<text x="514.10" y="236.29999999999998" font-size="2.7" text-anchor="middle" font-family="Liberation Serif, serif" font-weight="bold" fill="#000" stroke="#000" stroke-width="0.4">10</text>
<text x="516.00" y="234.89999999999998" font-size="1.8" text-anchor="middle" font-family="Liberation Serif, serif" font-weight="bold" fill="#000" stroke="#000" stroke-width="0.4">5</text>
<line x1="464.80" y1="230.7" x2="464.80" y2="232.29999999999998" stroke="#000" stroke-width="0.75"/>
<line x1="467.13" y1="230.7" x2="467.13" y2="232.29999999999998" stroke="#000" stroke-width="0.75"/>
<line x1="468.79" y1="230.7" x2="468.79" y2="232.29999999999998" stroke="#000" stroke-width="0.75"/>
<line x1="470.08" y1="230.7" x2="470.08" y2="232.29999999999998" stroke="#000" stroke-width="0.75"/>
<line x1="471.13" y1="230.7" x2="471.13" y2="232.29999999999998" stroke="#000" stroke-width="0.75"/>
<line x1="472.02" y1="230.7" x2="472.02" y2="232.29999999999998" stroke="#000" stroke-width="0.75"/>
<line x1="472.79" y1="230.7" x2="472.79" y2="232.29999999999998" stroke="#000" stroke-width="0.75"/>
<line x1="473.47" y1="230.7" x2="473.47" y2="232.29999999999998" stroke="#000" stroke-width="0.75"/>
<line x1="478.07" y1="230.7" x2="478.07" y2="232.29999999999998" stroke="#000" stroke-width="0.75"/>
<line x1="480.41" y1="230.7" x2="480.41" y2="232.29999999999998" stroke="#000" stroke-width="0.75"/>
<line x1="482.07" y1="230.7" x2="482.07" y2="232.29999999999998" stroke="#000" stroke-width="0.75"/>
<line x1="483.35" y1="230.7" x2="483.35" y2="232.29999999999998" stroke="#000" stroke-width="0.75"/>
<line x1="484.40" y1="230.7" x2="484.40" y2="232.29999999999998" stroke="#000" stroke-width="0.75"/>
<line x1="485.29" y1="230.7" x2="485.29" y2="232.29999999999998" stroke="#000" stroke-width="0.75"/>
<line x1="486.06" y1="230.7" x2="486.06" y2="232.29999999999998" stroke="#000" stroke-width="0.75"/>
<line x1="486.74" y1="230.7" x2="486.74" y2="232.29999999999998" stroke="#000" stroke-width="0.75"/>
<line x1="491.35" y1="230.7" x2="491.35" y2="232.29999999999998" stroke="#000" stroke-width="0.75"/>
<line x1="493.68" y1="230.7" x2="493.68" y2="232.29999999999998" stroke="#000" stroke-width="0.75"/>
<line x1="495.34" y1="230.7" x2="495.34" y2="232.29999999999998" stroke="#000" stroke-width="0.75"/>
<line x1="496.63" y1="230.7" x2="496.63" y2="232.29999999999998" stroke="#000" stroke-width="0.75"/>
<line x1="497.68" y1="230.7" x2="497.68" y2="232.29999999999998" stroke="#000" stroke-width="0.75"/>
<line x1="498.57" y1="230.7" x2="498.57" y2="232.29999999999998" stroke="#000" stroke-width="0.75"/>
<line x1="499.34" y1="230.7" x2="499.34" y2="232.29999999999998" stroke="#000" stroke-width="0.75"/>
<line x1="500.02" y1="230.7" x2="500.02" y2="232.29999999999998" stroke="#000" stroke-width="0.75"/>
<line x1="504.62" y1="230.7" x2="504.62" y2="232.29999999999998" stroke="#000" stroke-width="0.75"/>
<line x1="506.96" y1="230.7" x2="506.96" y2="232.29999999999998" stroke="#000" stroke-width="0.75"/>
<line x1="508.62" y1="230.7" x2="508.62" y2="232.29999999999998" stroke="#000" stroke-width="0.75"/>
<line x1="509.90" y1="230.7" x2="509.90" y2="232.29999999999998" stroke="#000" stroke-width="0.75"/>
<line x1="510.95" y1="230.7" x2="510.95" y2="232.29999999999998" stroke="#000" stroke-width="0.75"/>
<line x1="511.84" y1="230.7" x2="511.84" y2="232.29999999999998" stroke="#000" stroke-width="0.75"/>
<line x1="512.61" y1="230.7" x2="512.61" y2="232.29999999999998" stroke="#000" stroke-width="0.75"/>
<line x1="513.29" y1="230.7" x2="513.29" y2="232.29999999999998" stroke="#000" stroke-width="0.75"/>
<text x="484.3" y="167.4" font-size="8.2" text-anchor="middle" font-family="Liberation Serif, serif" fill="#000">PKBinh 48h</text>
<line x1="248.8" y1="237.8" x2="307.2" y2="237.8" stroke="#000" stroke-width="1.5"/>
<path d="M308.2,237.8 L304.3,235.25 L304.3,240.35000000000002 Z" fill="#000"/>
<text x="274" y="246.6" font-size="8.3" text-anchor="middle" font-family="Liberation Serif, serif" fill="#000">Lineage-Fitc</text>
<text x="237.6" y="200.5" font-size="8.2" text-anchor="middle" font-family="Liberation Serif, serif" fill="#000" transform="rotate(-90 237.6 200.5)">SSC</text>
<text x="237.6" y="278.6" font-size="8.2" text-anchor="middle" font-family="Liberation Serif, serif" fill="#000" transform="rotate(-90 237.6 278.6)">CD38-APC</text>
<clipPath id="isoclip"><path d="M248.4,308.3 L248.4,291.8 L263.6,292 Q267.9,292.4 267.9,296.4 L267.9,308.3 Z"/></clipPath>
<g clip-path="url(#isoclip)">
<rect x="248" y="291" width="21" height="18" fill="#3c3c3c"/>
<ellipse cx="260.4" cy="299.3" rx="2.13" ry="1.90" fill="none" stroke="#0c0c0c" stroke-width="0.62"/>
<ellipse cx="260.4" cy="299.3" rx="3.47" ry="3.10" fill="none" stroke="#0c0c0c" stroke-width="0.62"/>
<ellipse cx="260.4" cy="299.3" rx="4.82" ry="4.30" fill="none" stroke="#0c0c0c" stroke-width="0.62"/>
<ellipse cx="260.4" cy="299.3" rx="6.16" ry="5.50" fill="none" stroke="#0c0c0c" stroke-width="0.62"/>
<ellipse cx="260.4" cy="299.3" rx="7.50" ry="6.70" fill="none" stroke="#0c0c0c" stroke-width="0.62"/>
<ellipse cx="260.4" cy="299.3" rx="8.85" ry="7.90" fill="none" stroke="#0c0c0c" stroke-width="0.62"/>
<ellipse cx="260.4" cy="299.3" rx="10.19" ry="9.10" fill="none" stroke="#0c0c0c" stroke-width="0.62"/>
<ellipse cx="260.4" cy="299.3" rx="11.65" ry="10.40" fill="none" stroke="#0c0c0c" stroke-width="0.62"/>
<ellipse cx="260.4" cy="299.3" rx="8.3" ry="7.4" fill="none" stroke="#eee" stroke-width="0.5"/>
<ellipse cx="260.4" cy="299.3" rx="5.6" ry="5" fill="none" stroke="#ddd" stroke-width="0.45"/>
<rect x="248" y="291" width="3.2" height="18" fill="#050505"/>
<rect x="248" y="305.2" width="19" height="4" fill="#050505"/>
<ellipse cx="260.5" cy="299.2" rx="1.5" ry="1.2" fill="#fff"/>
</g>
<rect x="248.4" y="249.6" width="60.40" height="58.70" fill="none" stroke="#000" stroke-width="1.5"/>
<line x1="268.4" y1="249.6" x2="268.4" y2="308.3" stroke="#111" stroke-width="0.7"/>
<line x1="248.4" y1="291.5" x2="308.8" y2="291.5" stroke="#111" stroke-width="0.7"/>
<line x1="246.0" y1="308.70" x2="248.4" y2="308.70" stroke="#000" stroke-width="1.1"/>
<text x="245.0" y="309.60" font-size="2.7" text-anchor="end" font-family="Liberation Serif, serif" font-weight="bold" fill="#000" stroke="#000" stroke-width="0.4">10</text>
<text x="246.0" y="307.80" font-size="1.8" text-anchor="middle" font-family="Liberation Serif, serif" font-weight="bold" fill="#000" stroke="#000" stroke-width="0.4">1</text>
<line x1="246.0" y1="294.02" x2="248.4" y2="294.02" stroke="#000" stroke-width="1.1"/>
<text x="245.0" y="294.92" font-size="2.7" text-anchor="end" font-family="Liberation Serif, serif" font-weight="bold" fill="#000" stroke="#000" stroke-width="0.4">10</text>
<text x="246.0" y="293.12" font-size="1.8" text-anchor="middle" font-family="Liberation Serif, serif" font-weight="bold" fill="#000" stroke="#000" stroke-width="0.4">2</text>
<line x1="246.0" y1="279.35" x2="248.4" y2="279.35" stroke="#000" stroke-width="1.1"/>
<text x="245.0" y="280.25" font-size="2.7" text-anchor="end" font-family="Liberation Serif, serif" font-weight="bold" fill="#000" stroke="#000" stroke-width="0.4">10</text>
<text x="246.0" y="278.45" font-size="1.8" text-anchor="middle" font-family="Liberation Serif, serif" font-weight="bold" fill="#000" stroke="#000" stroke-width="0.4">3</text>
<line x1="246.0" y1="264.67" x2="248.4" y2="264.67" stroke="#000" stroke-width="1.1"/>
<text x="245.0" y="265.57" font-size="2.7" text-anchor="end" font-family="Liberation Serif, serif" font-weight="bold" fill="#000" stroke="#000" stroke-width="0.4">10</text>
<text x="246.0" y="263.77" font-size="1.8" text-anchor="middle" font-family="Liberation Serif, serif" font-weight="bold" fill="#000" stroke="#000" stroke-width="0.4">4</text>
<line x1="246.0" y1="250.00" x2="248.4" y2="250.00" stroke="#000" stroke-width="1.1"/>
<text x="245.0" y="250.90" font-size="2.7" text-anchor="end" font-family="Liberation Serif, serif" font-weight="bold" fill="#000" stroke="#000" stroke-width="0.4">10</text>
<text x="246.0" y="249.10" font-size="1.8" text-anchor="middle" font-family="Liberation Serif, serif" font-weight="bold" fill="#000" stroke="#000" stroke-width="0.4">5</text>
<line x1="246.8" y1="304.28" x2="248.4" y2="304.28" stroke="#000" stroke-width="0.75"/>
<line x1="246.8" y1="301.70" x2="248.4" y2="301.70" stroke="#000" stroke-width="0.75"/>
<line x1="246.8" y1="299.86" x2="248.4" y2="299.86" stroke="#000" stroke-width="0.75"/>
<line x1="246.8" y1="298.44" x2="248.4" y2="298.44" stroke="#000" stroke-width="0.75"/>
<line x1="246.8" y1="297.28" x2="248.4" y2="297.28" stroke="#000" stroke-width="0.75"/>
<line x1="246.8" y1="296.30" x2="248.4" y2="296.30" stroke="#000" stroke-width="0.75"/>
<line x1="246.8" y1="295.45" x2="248.4" y2="295.45" stroke="#000" stroke-width="0.75"/>
<line x1="246.8" y1="294.70" x2="248.4" y2="294.70" stroke="#000" stroke-width="0.75"/>
<line x1="246.8" y1="289.61" x2="248.4" y2="289.61" stroke="#000" stroke-width="0.75"/>
<line x1="246.8" y1="287.02" x2="248.4" y2="287.02" stroke="#000" stroke-width="0.75"/>
<line x1="246.8" y1="285.19" x2="248.4" y2="285.19" stroke="#000" stroke-width="0.75"/>
<line x1="246.8" y1="283.77" x2="248.4" y2="283.77" stroke="#000" stroke-width="0.75"/>
<line x1="246.8" y1="282.61" x2="248.4" y2="282.61" stroke="#000" stroke-width="0.75"/>
<line x1="246.8" y1="281.62" x2="248.4" y2="281.62" stroke="#000" stroke-width="0.75"/>
<line x1="246.8" y1="280.77" x2="248.4" y2="280.77" stroke="#000" stroke-width="0.75"/>
<line x1="246.8" y1="280.02" x2="248.4" y2="280.02" stroke="#000" stroke-width="0.75"/>
<line x1="246.8" y1="274.93" x2="248.4" y2="274.93" stroke="#000" stroke-width="0.75"/>
<line x1="246.8" y1="272.35" x2="248.4" y2="272.35" stroke="#000" stroke-width="0.75"/>
<line x1="246.8" y1="270.51" x2="248.4" y2="270.51" stroke="#000" stroke-width="0.75"/>
<line x1="246.8" y1="269.09" x2="248.4" y2="269.09" stroke="#000" stroke-width="0.75"/>
<line x1="246.8" y1="267.93" x2="248.4" y2="267.93" stroke="#000" stroke-width="0.75"/>
<line x1="246.8" y1="266.95" x2="248.4" y2="266.95" stroke="#000" stroke-width="0.75"/>
<line x1="246.8" y1="266.10" x2="248.4" y2="266.10" stroke="#000" stroke-width="0.75"/>
<line x1="246.8" y1="265.35" x2="248.4" y2="265.35" stroke="#000" stroke-width="0.75"/>
<line x1="246.8" y1="260.26" x2="248.4" y2="260.26" stroke="#000" stroke-width="0.75"/>
<line x1="246.8" y1="257.67" x2="248.4" y2="257.67" stroke="#000" stroke-width="0.75"/>
<line x1="246.8" y1="255.84" x2="248.4" y2="255.84" stroke="#000" stroke-width="0.75"/>
<line x1="246.8" y1="254.42" x2="248.4" y2="254.42" stroke="#000" stroke-width="0.75"/>
<line x1="246.8" y1="253.26" x2="248.4" y2="253.26" stroke="#000" stroke-width="0.75"/>
<line x1="246.8" y1="252.27" x2="248.4" y2="252.27" stroke="#000" stroke-width="0.75"/>
<line x1="246.8" y1="251.42" x2="248.4" y2="251.42" stroke="#000" stroke-width="0.75"/>
<line x1="246.8" y1="250.67" x2="248.4" y2="250.67" stroke="#000" stroke-width="0.75"/>
<line x1="251.20" y1="308.3" x2="251.20" y2="310.7" stroke="#000" stroke-width="1.1"/>
<text x="251.40" y="313.90000000000003" font-size="2.7" text-anchor="middle" font-family="Liberation Serif, serif" font-weight="bold" fill="#000" stroke="#000" stroke-width="0.4">10</text>
<text x="253.30" y="312.5" font-size="1.8" text-anchor="middle" font-family="Liberation Serif, serif" font-weight="bold" fill="#000" stroke="#000" stroke-width="0.4">1</text>
<line x1="264.90" y1="308.3" x2="264.90" y2="310.7" stroke="#000" stroke-width="1.1"/>
<text x="265.10" y="313.90000000000003" font-size="2.7" text-anchor="middle" font-family="Liberation Serif, serif" font-weight="bold" fill="#000" stroke="#000" stroke-width="0.4">10</text>
<text x="267.00" y="312.5" font-size="1.8" text-anchor="middle" font-family="Liberation Serif, serif" font-weight="bold" fill="#000" stroke="#000" stroke-width="0.4">2</text>
<line x1="278.60" y1="308.3" x2="278.60" y2="310.7" stroke="#000" stroke-width="1.1"/>
<text x="278.80" y="313.90000000000003" font-size="2.7" text-anchor="middle" font-family="Liberation Serif, serif" font-weight="bold" fill="#000" stroke="#000" stroke-width="0.4">10</text>
<text x="280.70" y="312.5" font-size="1.8" text-anchor="middle" font-family="Liberation Serif, serif" font-weight="bold" fill="#000" stroke="#000" stroke-width="0.4">3</text>
<line x1="292.30" y1="308.3" x2="292.30" y2="310.7" stroke="#000" stroke-width="1.1"/>
<text x="292.50" y="313.90000000000003" font-size="2.7" text-anchor="middle" font-family="Liberation Serif, serif" font-weight="bold" fill="#000" stroke="#000" stroke-width="0.4">10</text>
<text x="294.40" y="312.5" font-size="1.8" text-anchor="middle" font-family="Liberation Serif, serif" font-weight="bold" fill="#000" stroke="#000" stroke-width="0.4">4</text>
<line x1="306.00" y1="308.3" x2="306.00" y2="310.7" stroke="#000" stroke-width="1.1"/>
<text x="306.20" y="313.90000000000003" font-size="2.7" text-anchor="middle" font-family="Liberation Serif, serif" font-weight="bold" fill="#000" stroke="#000" stroke-width="0.4">10</text>
<text x="308.10" y="312.5" font-size="1.8" text-anchor="middle" font-family="Liberation Serif, serif" font-weight="bold" fill="#000" stroke="#000" stroke-width="0.4">5</text>
<line x1="255.32" y1="308.3" x2="255.32" y2="309.90000000000003" stroke="#000" stroke-width="0.75"/>
<line x1="257.74" y1="308.3" x2="257.74" y2="309.90000000000003" stroke="#000" stroke-width="0.75"/>
<line x1="259.45" y1="308.3" x2="259.45" y2="309.90000000000003" stroke="#000" stroke-width="0.75"/>
<line x1="260.78" y1="308.3" x2="260.78" y2="309.90000000000003" stroke="#000" stroke-width="0.75"/>
<line x1="261.86" y1="308.3" x2="261.86" y2="309.90000000000003" stroke="#000" stroke-width="0.75"/>
<line x1="262.78" y1="308.3" x2="262.78" y2="309.90000000000003" stroke="#000" stroke-width="0.75"/>
<line x1="263.57" y1="308.3" x2="263.57" y2="309.90000000000003" stroke="#000" stroke-width="0.75"/>
<line x1="264.27" y1="308.3" x2="264.27" y2="309.90000000000003" stroke="#000" stroke-width="0.75"/>
<line x1="269.02" y1="308.3" x2="269.02" y2="309.90000000000003" stroke="#000" stroke-width="0.75"/>
<line x1="271.44" y1="308.3" x2="271.44" y2="309.90000000000003" stroke="#000" stroke-width="0.75"/>
<line x1="273.15" y1="308.3" x2="273.15" y2="309.90000000000003" stroke="#000" stroke-width="0.75"/>
<line x1="274.48" y1="308.3" x2="274.48" y2="309.90000000000003" stroke="#000" stroke-width="0.75"/>
<line x1="275.56" y1="308.3" x2="275.56" y2="309.90000000000003" stroke="#000" stroke-width="0.75"/>
<line x1="276.48" y1="308.3" x2="276.48" y2="309.90000000000003" stroke="#000" stroke-width="0.75"/>
<line x1="277.27" y1="308.3" x2="277.27" y2="309.90000000000003" stroke="#000" stroke-width="0.75"/>
<line x1="277.97" y1="308.3" x2="277.97" y2="309.90000000000003" stroke="#000" stroke-width="0.75"/>
<line x1="282.72" y1="308.3" x2="282.72" y2="309.90000000000003" stroke="#000" stroke-width="0.75"/>
<line x1="285.14" y1="308.3" x2="285.14" y2="309.90000000000003" stroke="#000" stroke-width="0.75"/>
<line x1="286.85" y1="308.3" x2="286.85" y2="309.90000000000003" stroke="#000" stroke-width="0.75"/>
<line x1="288.18" y1="308.3" x2="288.18" y2="309.90000000000003" stroke="#000" stroke-width="0.75"/>
<line x1="289.26" y1="308.3" x2="289.26" y2="309.90000000000003" stroke="#000" stroke-width="0.75"/>
<line x1="290.18" y1="308.3" x2="290.18" y2="309.90000000000003" stroke="#000" stroke-width="0.75"/>
<line x1="290.97" y1="308.3" x2="290.97" y2="309.90000000000003" stroke="#000" stroke-width="0.75"/>
<line x1="291.67" y1="308.3" x2="291.67" y2="309.90000000000003" stroke="#000" stroke-width="0.75"/>
<line x1="296.42" y1="308.3" x2="296.42" y2="309.90000000000003" stroke="#000" stroke-width="0.75"/>
<line x1="298.84" y1="308.3" x2="298.84" y2="309.90000000000003" stroke="#000" stroke-width="0.75"/>
<line x1="300.55" y1="308.3" x2="300.55" y2="309.90000000000003" stroke="#000" stroke-width="0.75"/>
<line x1="301.88" y1="308.3" x2="301.88" y2="309.90000000000003" stroke="#000" stroke-width="0.75"/>
<line x1="302.96" y1="308.3" x2="302.96" y2="309.90000000000003" stroke="#000" stroke-width="0.75"/>
<line x1="303.88" y1="308.3" x2="303.88" y2="309.90000000000003" stroke="#000" stroke-width="0.75"/>
<line x1="304.67" y1="308.3" x2="304.67" y2="309.90000000000003" stroke="#000" stroke-width="0.75"/>
<line x1="305.37" y1="308.3" x2="305.37" y2="309.90000000000003" stroke="#000" stroke-width="0.75"/>
<circle cx="333.7" cy="288.7" r="0.3" fill="#ccc"/>
<circle cx="366.4" cy="297.8" r="0.3" fill="#ccc"/>
<circle cx="337.5" cy="290.6" r="0.3" fill="#ccc"/>
<circle cx="360.7" cy="267.7" r="0.3" fill="#ccc"/>
<circle cx="371.0" cy="300.7" r="0.3" fill="#ccc"/>
<circle cx="340.5" cy="300.1" r="0.3" fill="#ccc"/>
<circle cx="348.7" cy="281.4" r="0.3" fill="#ccc"/>
<circle cx="375.9" cy="295.2" r="0.3" fill="#ccc"/>
<circle cx="337.8" cy="279.2" r="0.3" fill="#ccc"/>
<circle cx="354.1" cy="275.5" r="0.3" fill="#ccc"/>
<circle cx="339.4" cy="274.7" r="0.3" fill="#ccc"/>
<circle cx="363.6" cy="262.7" r="0.3" fill="#ccc"/>
<path d="M340.50,279.00 C340.50,270.77 344.61,266.90 353.35,266.90 C362.09,266.90 366.20,270.77 366.20,279.00 C366.20,290.16 359.78,297.00 353.35,297.00 C346.93,297.00 340.50,290.16 340.50,279.00 Z" fill="#fff" stroke="#1a1a1a" stroke-width="0.5"/>
<path d="M342.44,279.15 C342.44,271.16 346.15,267.39 354.05,267.39 C361.95,267.39 365.67,271.16 365.67,279.15 C365.67,289.13 359.86,295.25 354.05,295.25 C348.25,295.25 342.44,289.13 342.44,279.15 Z" fill="#f4f4f4" stroke="#1a1a1a" stroke-width="0.5"/>
<path d="M344.07,279.28 C344.07,271.48 347.45,267.81 354.64,267.81 C361.84,267.81 365.22,271.48 365.22,279.28 C365.22,288.27 359.93,293.78 354.64,293.78 C349.36,293.78 344.07,288.27 344.07,279.28 Z" fill="#8c8c8c" stroke="#1a1a1a" stroke-width="0.5"/>
<path d="M345.60,279.40 C345.60,271.78 348.67,268.20 355.20,268.20 C361.73,268.20 364.80,271.78 364.80,279.40 C364.80,287.46 360.00,292.40 355.20,292.40 C350.40,292.40 345.60,287.46 345.60,279.40 Z" fill="#060606" stroke="#000" stroke-width="0.4"/>
<ellipse cx="357.1" cy="278.8" rx="0.55" ry="1.2" fill="#fff"/>
<rect x="318.1" y="249.6" width="60.20" height="58.70" fill="none" stroke="#000" stroke-width="1.5"/>
<line x1="337.7" y1="249.6" x2="337.7" y2="308.3" stroke="#111" stroke-width="0.7"/>
<line x1="318.1" y1="291.5" x2="378.3" y2="291.5" stroke="#111" stroke-width="0.7"/>
<line x1="337.7" y1="293.05" x2="378.3" y2="293.05" stroke="#fff" stroke-width="0.9"/>
<rect x="337.7" y="294.5" width="40.60" height="13.80" fill="none" stroke="#000" stroke-width="1.5"/>
<text x="376.6" y="307" font-size="4.8" text-anchor="end" font-family="Liberation Serif, serif" fill="#000">1.77%</text>
<line x1="315.70000000000005" y1="308.70" x2="318.1" y2="308.70" stroke="#000" stroke-width="1.1"/>
<text x="314.70000000000005" y="309.60" font-size="2.7" text-anchor="end" font-family="Liberation Serif, serif" font-weight="bold" fill="#000" stroke="#000" stroke-width="0.4">10</text>
<text x="315.70000000000005" y="307.80" font-size="1.8" text-anchor="middle" font-family="Liberation Serif, serif" font-weight="bold" fill="#000" stroke="#000" stroke-width="0.4">1</text>
<line x1="315.70000000000005" y1="294.02" x2="318.1" y2="294.02" stroke="#000" stroke-width="1.1"/>
<text x="314.70000000000005" y="294.92" font-size="2.7" text-anchor="end" font-family="Liberation Serif, serif" font-weight="bold" fill="#000" stroke="#000" stroke-width="0.4">10</text>
<text x="315.70000000000005" y="293.12" font-size="1.8" text-anchor="middle" font-family="Liberation Serif, serif" font-weight="bold" fill="#000" stroke="#000" stroke-width="0.4">2</text>
<line x1="315.70000000000005" y1="279.35" x2="318.1" y2="279.35" stroke="#000" stroke-width="1.1"/>
<text x="314.70000000000005" y="280.25" font-size="2.7" text-anchor="end" font-family="Liberation Serif, serif" font-weight="bold" fill="#000" stroke="#000" stroke-width="0.4">10</text>
<text x="315.70000000000005" y="278.45" font-size="1.8" text-anchor="middle" font-family="Liberation Serif, serif" font-weight="bold" fill="#000" stroke="#000" stroke-width="0.4">3</text>
<line x1="315.70000000000005" y1="264.67" x2="318.1" y2="264.67" stroke="#000" stroke-width="1.1"/>
<text x="314.70000000000005" y="265.57" font-size="2.7" text-anchor="end" font-family="Liberation Serif, serif" font-weight="bold" fill="#000" stroke="#000" stroke-width="0.4">10</text>
<text x="315.70000000000005" y="263.77" font-size="1.8" text-anchor="middle" font-family="Liberation Serif, serif" font-weight="bold" fill="#000" stroke="#000" stroke-width="0.4">4</text>
<line x1="315.70000000000005" y1="250.00" x2="318.1" y2="250.00" stroke="#000" stroke-width="1.1"/>
<text x="314.70000000000005" y="250.90" font-size="2.7" text-anchor="end" font-family="Liberation Serif, serif" font-weight="bold" fill="#000" stroke="#000" stroke-width="0.4">10</text>
<text x="315.70000000000005" y="249.10" font-size="1.8" text-anchor="middle" font-family="Liberation Serif, serif" font-weight="bold" fill="#000" stroke="#000" stroke-width="0.4">5</text>
<line x1="316.5" y1="304.28" x2="318.1" y2="304.28" stroke="#000" stroke-width="0.75"/>
<line x1="316.5" y1="301.70" x2="318.1" y2="301.70" stroke="#000" stroke-width="0.75"/>
<line x1="316.5" y1="299.86" x2="318.1" y2="299.86" stroke="#000" stroke-width="0.75"/>
<line x1="316.5" y1="298.44" x2="318.1" y2="298.44" stroke="#000" stroke-width="0.75"/>
<line x1="316.5" y1="297.28" x2="318.1" y2="297.28" stroke="#000" stroke-width="0.75"/>
<line x1="316.5" y1="296.30" x2="318.1" y2="296.30" stroke="#000" stroke-width="0.75"/>
<line x1="316.5" y1="295.45" x2="318.1" y2="295.45" stroke="#000" stroke-width="0.75"/>
<line x1="316.5" y1="294.70" x2="318.1" y2="294.70" stroke="#000" stroke-width="0.75"/>
<line x1="316.5" y1="289.61" x2="318.1" y2="289.61" stroke="#000" stroke-width="0.75"/>
<line x1="316.5" y1="287.02" x2="318.1" y2="287.02" stroke="#000" stroke-width="0.75"/>
<line x1="316.5" y1="285.19" x2="318.1" y2="285.19" stroke="#000" stroke-width="0.75"/>
<line x1="316.5" y1="283.77" x2="318.1" y2="283.77" stroke="#000" stroke-width="0.75"/>
<line x1="316.5" y1="282.61" x2="318.1" y2="282.61" stroke="#000" stroke-width="0.75"/>
<line x1="316.5" y1="281.62" x2="318.1" y2="281.62" stroke="#000" stroke-width="0.75"/>
<line x1="316.5" y1="280.77" x2="318.1" y2="280.77" stroke="#000" stroke-width="0.75"/>
<line x1="316.5" y1="280.02" x2="318.1" y2="280.02" stroke="#000" stroke-width="0.75"/>
<line x1="316.5" y1="274.93" x2="318.1" y2="274.93" stroke="#000" stroke-width="0.75"/>
<line x1="316.5" y1="272.35" x2="318.1" y2="272.35" stroke="#000" stroke-width="0.75"/>
<line x1="316.5" y1="270.51" x2="318.1" y2="270.51" stroke="#000" stroke-width="0.75"/>
<line x1="316.5" y1="269.09" x2="318.1" y2="269.09" stroke="#000" stroke-width="0.75"/>
<line x1="316.5" y1="267.93" x2="318.1" y2="267.93" stroke="#000" stroke-width="0.75"/>
<line x1="316.5" y1="266.95" x2="318.1" y2="266.95" stroke="#000" stroke-width="0.75"/>
<line x1="316.5" y1="266.10" x2="318.1" y2="266.10" stroke="#000" stroke-width="0.75"/>
<line x1="316.5" y1="265.35" x2="318.1" y2="265.35" stroke="#000" stroke-width="0.75"/>
<line x1="316.5" y1="260.26" x2="318.1" y2="260.26" stroke="#000" stroke-width="0.75"/>
<line x1="316.5" y1="257.67" x2="318.1" y2="257.67" stroke="#000" stroke-width="0.75"/>
<line x1="316.5" y1="255.84" x2="318.1" y2="255.84" stroke="#000" stroke-width="0.75"/>
<line x1="316.5" y1="254.42" x2="318.1" y2="254.42" stroke="#000" stroke-width="0.75"/>
<line x1="316.5" y1="253.26" x2="318.1" y2="253.26" stroke="#000" stroke-width="0.75"/>
<line x1="316.5" y1="252.27" x2="318.1" y2="252.27" stroke="#000" stroke-width="0.75"/>
<line x1="316.5" y1="251.42" x2="318.1" y2="251.42" stroke="#000" stroke-width="0.75"/>
<line x1="316.5" y1="250.67" x2="318.1" y2="250.67" stroke="#000" stroke-width="0.75"/>
<line x1="320.90" y1="308.3" x2="320.90" y2="310.7" stroke="#000" stroke-width="1.1"/>
<text x="321.10" y="313.90000000000003" font-size="2.7" text-anchor="middle" font-family="Liberation Serif, serif" font-weight="bold" fill="#000" stroke="#000" stroke-width="0.4">10</text>
<text x="323.00" y="312.5" font-size="1.8" text-anchor="middle" font-family="Liberation Serif, serif" font-weight="bold" fill="#000" stroke="#000" stroke-width="0.4">1</text>
<line x1="334.55" y1="308.3" x2="334.55" y2="310.7" stroke="#000" stroke-width="1.1"/>
<text x="334.75" y="313.90000000000003" font-size="2.7" text-anchor="middle" font-family="Liberation Serif, serif" font-weight="bold" fill="#000" stroke="#000" stroke-width="0.4">10</text>
<text x="336.65" y="312.5" font-size="1.8" text-anchor="middle" font-family="Liberation Serif, serif" font-weight="bold" fill="#000" stroke="#000" stroke-width="0.4">2</text>
<line x1="348.20" y1="308.3" x2="348.20" y2="310.7" stroke="#000" stroke-width="1.1"/>
<text x="348.40" y="313.90000000000003" font-size="2.7" text-anchor="middle" font-family="Liberation Serif, serif" font-weight="bold" fill="#000" stroke="#000" stroke-width="0.4">10</text>
<text x="350.30" y="312.5" font-size="1.8" text-anchor="middle" font-family="Liberation Serif, serif" font-weight="bold" fill="#000" stroke="#000" stroke-width="0.4">3</text>
<line x1="361.85" y1="308.3" x2="361.85" y2="310.7" stroke="#000" stroke-width="1.1"/>
<text x="362.05" y="313.90000000000003" font-size="2.7" text-anchor="middle" font-family="Liberation Serif, serif" font-weight="bold" fill="#000" stroke="#000" stroke-width="0.4">10</text>
<text x="363.95" y="312.5" font-size="1.8" text-anchor="middle" font-family="Liberation Serif, serif" font-weight="bold" fill="#000" stroke="#000" stroke-width="0.4">4</text>
<line x1="375.50" y1="308.3" x2="375.50" y2="310.7" stroke="#000" stroke-width="1.1"/>
<text x="375.70" y="313.90000000000003" font-size="2.7" text-anchor="middle" font-family="Liberation Serif, serif" font-weight="bold" fill="#000" stroke="#000" stroke-width="0.4">10</text>
<text x="377.60" y="312.5" font-size="1.8" text-anchor="middle" font-family="Liberation Serif, serif" font-weight="bold" fill="#000" stroke="#000" stroke-width="0.4">5</text>
<line x1="325.01" y1="308.3" x2="325.01" y2="309.90000000000003" stroke="#000" stroke-width="0.75"/>
<line x1="327.41" y1="308.3" x2="327.41" y2="309.90000000000003" stroke="#000" stroke-width="0.75"/>
<line x1="329.12" y1="308.3" x2="329.12" y2="309.90000000000003" stroke="#000" stroke-width="0.75"/>
<line x1="330.44" y1="308.3" x2="330.44" y2="309.90000000000003" stroke="#000" stroke-width="0.75"/>
<line x1="331.52" y1="308.3" x2="331.52" y2="309.90000000000003" stroke="#000" stroke-width="0.75"/>
<line x1="332.44" y1="308.3" x2="332.44" y2="309.90000000000003" stroke="#000" stroke-width="0.75"/>
<line x1="333.23" y1="308.3" x2="333.23" y2="309.90000000000003" stroke="#000" stroke-width="0.75"/>
<line x1="333.93" y1="308.3" x2="333.93" y2="309.90000000000003" stroke="#000" stroke-width="0.75"/>
<line x1="338.66" y1="308.3" x2="338.66" y2="309.90000000000003" stroke="#000" stroke-width="0.75"/>
<line x1="341.06" y1="308.3" x2="341.06" y2="309.90000000000003" stroke="#000" stroke-width="0.75"/>
<line x1="342.77" y1="308.3" x2="342.77" y2="309.90000000000003" stroke="#000" stroke-width="0.75"/>
<line x1="344.09" y1="308.3" x2="344.09" y2="309.90000000000003" stroke="#000" stroke-width="0.75"/>
<line x1="345.17" y1="308.3" x2="345.17" y2="309.90000000000003" stroke="#000" stroke-width="0.75"/>
<line x1="346.09" y1="308.3" x2="346.09" y2="309.90000000000003" stroke="#000" stroke-width="0.75"/>
<line x1="346.88" y1="308.3" x2="346.88" y2="309.90000000000003" stroke="#000" stroke-width="0.75"/>
<line x1="347.58" y1="308.3" x2="347.58" y2="309.90000000000003" stroke="#000" stroke-width="0.75"/>
<line x1="352.31" y1="308.3" x2="352.31" y2="309.90000000000003" stroke="#000" stroke-width="0.75"/>
<line x1="354.71" y1="308.3" x2="354.71" y2="309.90000000000003" stroke="#000" stroke-width="0.75"/>
<line x1="356.42" y1="308.3" x2="356.42" y2="309.90000000000003" stroke="#000" stroke-width="0.75"/>
<line x1="357.74" y1="308.3" x2="357.74" y2="309.90000000000003" stroke="#000" stroke-width="0.75"/>
<line x1="358.82" y1="308.3" x2="358.82" y2="309.90000000000003" stroke="#000" stroke-width="0.75"/>
<line x1="359.74" y1="308.3" x2="359.74" y2="309.90000000000003" stroke="#000" stroke-width="0.75"/>
<line x1="360.53" y1="308.3" x2="360.53" y2="309.90000000000003" stroke="#000" stroke-width="0.75"/>
<line x1="361.23" y1="308.3" x2="361.23" y2="309.90000000000003" stroke="#000" stroke-width="0.75"/>
<line x1="365.96" y1="308.3" x2="365.96" y2="309.90000000000003" stroke="#000" stroke-width="0.75"/>
<line x1="368.36" y1="308.3" x2="368.36" y2="309.90000000000003" stroke="#000" stroke-width="0.75"/>
<line x1="370.07" y1="308.3" x2="370.07" y2="309.90000000000003" stroke="#000" stroke-width="0.75"/>
<line x1="371.39" y1="308.3" x2="371.39" y2="309.90000000000003" stroke="#000" stroke-width="0.75"/>
<line x1="372.47" y1="308.3" x2="372.47" y2="309.90000000000003" stroke="#000" stroke-width="0.75"/>
<line x1="373.39" y1="308.3" x2="373.39" y2="309.90000000000003" stroke="#000" stroke-width="0.75"/>
<line x1="374.18" y1="308.3" x2="374.18" y2="309.90000000000003" stroke="#000" stroke-width="0.75"/>
<line x1="374.88" y1="308.3" x2="374.88" y2="309.90000000000003" stroke="#000" stroke-width="0.75"/>
<circle cx="425.1" cy="281.0" r="0.3" fill="#ccc"/>
<circle cx="400.4" cy="276.7" r="0.3" fill="#ccc"/>
<circle cx="428.3" cy="283.9" r="0.3" fill="#ccc"/>
<circle cx="402.6" cy="302.8" r="0.3" fill="#ccc"/>
<circle cx="435.9" cy="302.3" r="0.3" fill="#ccc"/>
<circle cx="404.4" cy="274.0" r="0.3" fill="#ccc"/>
<circle cx="401.4" cy="294.6" r="0.3" fill="#ccc"/>
<circle cx="412.0" cy="268.6" r="0.3" fill="#ccc"/>
<circle cx="419.0" cy="299.9" r="0.3" fill="#ccc"/>
<circle cx="437.3" cy="273.7" r="0.3" fill="#ccc"/>
<circle cx="406.5" cy="300.2" r="0.3" fill="#ccc"/>
<circle cx="425.8" cy="291.4" r="0.3" fill="#ccc"/>
<path d="M411.50,278.50 C411.50,271.50 415.05,268.20 422.60,268.20 C430.15,268.20 433.70,271.50 433.70,278.50 C433.70,290.96 428.15,298.60 422.60,298.60 C417.05,298.60 411.50,290.96 411.50,278.50 Z" fill="#fff" stroke="#1a1a1a" stroke-width="0.5"/>
<path d="M413.32,278.69 C413.32,271.79 416.51,268.54 423.26,268.54 C430.02,268.54 433.21,271.79 433.21,278.69 C433.21,290.66 428.24,297.99 423.26,297.99 C418.29,297.99 413.32,290.66 413.32,278.69 Z" fill="#f4f4f4" stroke="#1a1a1a" stroke-width="0.5"/>
<path d="M414.86,278.85 C414.86,272.04 417.73,268.83 423.82,268.83 C429.92,268.83 432.79,272.04 432.79,278.85 C432.79,290.40 428.31,297.48 423.82,297.48 C419.34,297.48 414.86,290.40 414.86,278.85 Z" fill="#8c8c8c" stroke="#1a1a1a" stroke-width="0.5"/>
<path d="M416.30,279.00 C416.30,272.27 418.88,269.10 424.35,269.10 C429.82,269.10 432.40,272.27 432.40,279.00 C432.40,290.16 428.38,297.00 424.35,297.00 C420.33,297.00 416.30,290.16 416.30,279.00 Z" fill="#060606" stroke="#000" stroke-width="0.4"/>
<ellipse cx="425.2" cy="283.4" rx="0.55" ry="1.2" fill="#fff"/>
<rect x="388" y="249.6" width="60.00" height="58.70" fill="none" stroke="#000" stroke-width="1.5"/>
<line x1="407.6" y1="249.6" x2="407.6" y2="308.3" stroke="#111" stroke-width="0.7"/>
<line x1="388" y1="291.7" x2="448" y2="291.7" stroke="#111" stroke-width="0.7"/>
<line x1="407.6" y1="293.25" x2="448" y2="293.25" stroke="#fff" stroke-width="0.9"/>
<rect x="407.6" y="294.7" width="40.40" height="13.60" fill="none" stroke="#000" stroke-width="1.5"/>
<text x="446.3" y="307" font-size="4.8" text-anchor="end" font-family="Liberation Serif, serif" fill="#000">3.13%</text>
<line x1="385.6" y1="308.70" x2="388" y2="308.70" stroke="#000" stroke-width="1.1"/>
<text x="384.6" y="309.60" font-size="2.7" text-anchor="end" font-family="Liberation Serif, serif" font-weight="bold" fill="#000" stroke="#000" stroke-width="0.4">10</text>
<text x="385.6" y="307.80" font-size="1.8" text-anchor="middle" font-family="Liberation Serif, serif" font-weight="bold" fill="#000" stroke="#000" stroke-width="0.4">1</text>
<line x1="385.6" y1="294.02" x2="388" y2="294.02" stroke="#000" stroke-width="1.1"/>
<text x="384.6" y="294.92" font-size="2.7" text-anchor="end" font-family="Liberation Serif, serif" font-weight="bold" fill="#000" stroke="#000" stroke-width="0.4">10</text>
<text x="385.6" y="293.12" font-size="1.8" text-anchor="middle" font-family="Liberation Serif, serif" font-weight="bold" fill="#000" stroke="#000" stroke-width="0.4">2</text>
<line x1="385.6" y1="279.35" x2="388" y2="279.35" stroke="#000" stroke-width="1.1"/>
<text x="384.6" y="280.25" font-size="2.7" text-anchor="end" font-family="Liberation Serif, serif" font-weight="bold" fill="#000" stroke="#000" stroke-width="0.4">10</text>
<text x="385.6" y="278.45" font-size="1.8" text-anchor="middle" font-family="Liberation Serif, serif" font-weight="bold" fill="#000" stroke="#000" stroke-width="0.4">3</text>
<line x1="385.6" y1="264.67" x2="388" y2="264.67" stroke="#000" stroke-width="1.1"/>
<text x="384.6" y="265.57" font-size="2.7" text-anchor="end" font-family="Liberation Serif, serif" font-weight="bold" fill="#000" stroke="#000" stroke-width="0.4">10</text>
<text x="385.6" y="263.77" font-size="1.8" text-anchor="middle" font-family="Liberation Serif, serif" font-weight="bold" fill="#000" stroke="#000" stroke-width="0.4">4</text>
<line x1="385.6" y1="250.00" x2="388" y2="250.00" stroke="#000" stroke-width="1.1"/>
<text x="384.6" y="250.90" font-size="2.7" text-anchor="end" font-family="Liberation Serif, serif" font-weight="bold" fill="#000" stroke="#000" stroke-width="0.4">10</text>
<text x="385.6" y="249.10" font-size="1.8" text-anchor="middle" font-family="Liberation Serif, serif" font-weight="bold" fill="#000" stroke="#000" stroke-width="0.4">5</text>
<line x1="386.4" y1="304.28" x2="388" y2="304.28" stroke="#000" stroke-width="0.75"/>
<line x1="386.4" y1="301.70" x2="388" y2="301.70" stroke="#000" stroke-width="0.75"/>
<line x1="386.4" y1="299.86" x2="388" y2="299.86" stroke="#000" stroke-width="0.75"/>
<line x1="386.4" y1="298.44" x2="388" y2="298.44" stroke="#000" stroke-width="0.75"/>
<line x1="386.4" y1="297.28" x2="388" y2="297.28" stroke="#000" stroke-width="0.75"/>
<line x1="386.4" y1="296.30" x2="388" y2="296.30" stroke="#000" stroke-width="0.75"/>
<line x1="386.4" y1="295.45" x2="388" y2="295.45" stroke="#000" stroke-width="0.75"/>
<line x1="386.4" y1="294.70" x2="388" y2="294.70" stroke="#000" stroke-width="0.75"/>
<line x1="386.4" y1="289.61" x2="388" y2="289.61" stroke="#000" stroke-width="0.75"/>
<line x1="386.4" y1="287.02" x2="388" y2="287.02" stroke="#000" stroke-width="0.75"/>
<line x1="386.4" y1="285.19" x2="388" y2="285.19" stroke="#000" stroke-width="0.75"/>
<line x1="386.4" y1="283.77" x2="388" y2="283.77" stroke="#000" stroke-width="0.75"/>
<line x1="386.4" y1="282.61" x2="388" y2="282.61" stroke="#000" stroke-width="0.75"/>
<line x1="386.4" y1="281.62" x2="388" y2="281.62" stroke="#000" stroke-width="0.75"/>
<line x1="386.4" y1="280.77" x2="388" y2="280.77" stroke="#000" stroke-width="0.75"/>
<line x1="386.4" y1="280.02" x2="388" y2="280.02" stroke="#000" stroke-width="0.75"/>
<line x1="386.4" y1="274.93" x2="388" y2="274.93" stroke="#000" stroke-width="0.75"/>
<line x1="386.4" y1="272.35" x2="388" y2="272.35" stroke="#000" stroke-width="0.75"/>
<line x1="386.4" y1="270.51" x2="388" y2="270.51" stroke="#000" stroke-width="0.75"/>
<line x1="386.4" y1="269.09" x2="388" y2="269.09" stroke="#000" stroke-width="0.75"/>
<line x1="386.4" y1="267.93" x2="388" y2="267.93" stroke="#000" stroke-width="0.75"/>
<line x1="386.4" y1="266.95" x2="388" y2="266.95" stroke="#000" stroke-width="0.75"/>
<line x1="386.4" y1="266.10" x2="388" y2="266.10" stroke="#000" stroke-width="0.75"/>
<line x1="386.4" y1="265.35" x2="388" y2="265.35" stroke="#000" stroke-width="0.75"/>
<line x1="386.4" y1="260.26" x2="388" y2="260.26" stroke="#000" stroke-width="0.75"/>
<line x1="386.4" y1="257.67" x2="388" y2="257.67" stroke="#000" stroke-width="0.75"/>
<line x1="386.4" y1="255.84" x2="388" y2="255.84" stroke="#000" stroke-width="0.75"/>
<line x1="386.4" y1="254.42" x2="388" y2="254.42" stroke="#000" stroke-width="0.75"/>
<line x1="386.4" y1="253.26" x2="388" y2="253.26" stroke="#000" stroke-width="0.75"/>
<line x1="386.4" y1="252.27" x2="388" y2="252.27" stroke="#000" stroke-width="0.75"/>
<line x1="386.4" y1="251.42" x2="388" y2="251.42" stroke="#000" stroke-width="0.75"/>
<line x1="386.4" y1="250.67" x2="388" y2="250.67" stroke="#000" stroke-width="0.75"/>
<line x1="390.80" y1="308.3" x2="390.80" y2="310.7" stroke="#000" stroke-width="1.1"/>
<text x="391.00" y="313.90000000000003" font-size="2.7" text-anchor="middle" font-family="Liberation Serif, serif" font-weight="bold" fill="#000" stroke="#000" stroke-width="0.4">10</text>
<text x="392.90" y="312.5" font-size="1.8" text-anchor="middle" font-family="Liberation Serif, serif" font-weight="bold" fill="#000" stroke="#000" stroke-width="0.4">1</text>
<line x1="404.40" y1="308.3" x2="404.40" y2="310.7" stroke="#000" stroke-width="1.1"/>
<text x="404.60" y="313.90000000000003" font-size="2.7" text-anchor="middle" font-family="Liberation Serif, serif" font-weight="bold" fill="#000" stroke="#000" stroke-width="0.4">10</text>
<text x="406.50" y="312.5" font-size="1.8" text-anchor="middle" font-family="Liberation Serif, serif" font-weight="bold" fill="#000" stroke="#000" stroke-width="0.4">2</text>
<line x1="418.00" y1="308.3" x2="418.00" y2="310.7" stroke="#000" stroke-width="1.1"/>
<text x="418.20" y="313.90000000000003" font-size="2.7" text-anchor="middle" font-family="Liberation Serif, serif" font-weight="bold" fill="#000" stroke="#000" stroke-width="0.4">10</text>
<text x="420.10" y="312.5" font-size="1.8" text-anchor="middle" font-family="Liberation Serif, serif" font-weight="bold" fill="#000" stroke="#000" stroke-width="0.4">3</text>
<line x1="431.60" y1="308.3" x2="431.60" y2="310.7" stroke="#000" stroke-width="1.1"/>
<text x="431.80" y="313.90000000000003" font-size="2.7" text-anchor="middle" font-family="Liberation Serif, serif" font-weight="bold" fill="#000" stroke="#000" stroke-width="0.4">10</text>
<text x="433.70" y="312.5" font-size="1.8" text-anchor="middle" font-family="Liberation Serif, serif" font-weight="bold" fill="#000" stroke="#000" stroke-width="0.4">4</text>
<line x1="445.20" y1="308.3" x2="445.20" y2="310.7" stroke="#000" stroke-width="1.1"/>
<text x="445.40" y="313.90000000000003" font-size="2.7" text-anchor="middle" font-family="Liberation Serif, serif" font-weight="bold" fill="#000" stroke="#000" stroke-width="0.4">10</text>
<text x="447.30" y="312.5" font-size="1.8" text-anchor="middle" font-family="Liberation Serif, serif" font-weight="bold" fill="#000" stroke="#000" stroke-width="0.4">5</text>
<line x1="394.89" y1="308.3" x2="394.89" y2="309.90000000000003" stroke="#000" stroke-width="0.75"/>
<line x1="397.29" y1="308.3" x2="397.29" y2="309.90000000000003" stroke="#000" stroke-width="0.75"/>
<line x1="398.99" y1="308.3" x2="398.99" y2="309.90000000000003" stroke="#000" stroke-width="0.75"/>
<line x1="400.31" y1="308.3" x2="400.31" y2="309.90000000000003" stroke="#000" stroke-width="0.75"/>
<line x1="401.38" y1="308.3" x2="401.38" y2="309.90000000000003" stroke="#000" stroke-width="0.75"/>
<line x1="402.29" y1="308.3" x2="402.29" y2="309.90000000000003" stroke="#000" stroke-width="0.75"/>
<line x1="403.08" y1="308.3" x2="403.08" y2="309.90000000000003" stroke="#000" stroke-width="0.75"/>
<line x1="403.78" y1="308.3" x2="403.78" y2="309.90000000000003" stroke="#000" stroke-width="0.75"/>
<line x1="408.49" y1="308.3" x2="408.49" y2="309.90000000000003" stroke="#000" stroke-width="0.75"/>
<line x1="410.89" y1="308.3" x2="410.89" y2="309.90000000000003" stroke="#000" stroke-width="0.75"/>
<line x1="412.59" y1="308.3" x2="412.59" y2="309.90000000000003" stroke="#000" stroke-width="0.75"/>
<line x1="413.91" y1="308.3" x2="413.91" y2="309.90000000000003" stroke="#000" stroke-width="0.75"/>
<line x1="414.98" y1="308.3" x2="414.98" y2="309.90000000000003" stroke="#000" stroke-width="0.75"/>
<line x1="415.89" y1="308.3" x2="415.89" y2="309.90000000000003" stroke="#000" stroke-width="0.75"/>
<line x1="416.68" y1="308.3" x2="416.68" y2="309.90000000000003" stroke="#000" stroke-width="0.75"/>
<line x1="417.38" y1="308.3" x2="417.38" y2="309.90000000000003" stroke="#000" stroke-width="0.75"/>
<line x1="422.09" y1="308.3" x2="422.09" y2="309.90000000000003" stroke="#000" stroke-width="0.75"/>
<line x1="424.49" y1="308.3" x2="424.49" y2="309.90000000000003" stroke="#000" stroke-width="0.75"/>
<line x1="426.19" y1="308.3" x2="426.19" y2="309.90000000000003" stroke="#000" stroke-width="0.75"/>
<line x1="427.51" y1="308.3" x2="427.51" y2="309.90000000000003" stroke="#000" stroke-width="0.75"/>
<line x1="428.58" y1="308.3" x2="428.58" y2="309.90000000000003" stroke="#000" stroke-width="0.75"/>
<line x1="429.49" y1="308.3" x2="429.49" y2="309.90000000000003" stroke="#000" stroke-width="0.75"/>
<line x1="430.28" y1="308.3" x2="430.28" y2="309.90000000000003" stroke="#000" stroke-width="0.75"/>
<line x1="430.98" y1="308.3" x2="430.98" y2="309.90000000000003" stroke="#000" stroke-width="0.75"/>
<line x1="435.69" y1="308.3" x2="435.69" y2="309.90000000000003" stroke="#000" stroke-width="0.75"/>
<line x1="438.09" y1="308.3" x2="438.09" y2="309.90000000000003" stroke="#000" stroke-width="0.75"/>
<line x1="439.79" y1="308.3" x2="439.79" y2="309.90000000000003" stroke="#000" stroke-width="0.75"/>
<line x1="441.11" y1="308.3" x2="441.11" y2="309.90000000000003" stroke="#000" stroke-width="0.75"/>
<line x1="442.18" y1="308.3" x2="442.18" y2="309.90000000000003" stroke="#000" stroke-width="0.75"/>
<line x1="443.09" y1="308.3" x2="443.09" y2="309.90000000000003" stroke="#000" stroke-width="0.75"/>
<line x1="443.88" y1="308.3" x2="443.88" y2="309.90000000000003" stroke="#000" stroke-width="0.75"/>
<line x1="444.58" y1="308.3" x2="444.58" y2="309.90000000000003" stroke="#000" stroke-width="0.75"/>
<circle cx="471.8" cy="269.2" r="0.3" fill="#ccc"/>
<circle cx="499.4" cy="283.9" r="0.3" fill="#ccc"/>
<circle cx="471.0" cy="304.4" r="0.3" fill="#ccc"/>
<circle cx="496.9" cy="298.9" r="0.3" fill="#ccc"/>
<circle cx="471.6" cy="301.1" r="0.3" fill="#ccc"/>
<circle cx="470.8" cy="301.4" r="0.3" fill="#ccc"/>
<circle cx="488.6" cy="280.4" r="0.3" fill="#ccc"/>
<circle cx="493.1" cy="303.9" r="0.3" fill="#ccc"/>
<circle cx="480.0" cy="272.0" r="0.3" fill="#ccc"/>
<circle cx="491.9" cy="276.4" r="0.3" fill="#ccc"/>
<circle cx="472.7" cy="273.3" r="0.3" fill="#ccc"/>
<circle cx="470.0" cy="274.9" r="0.3" fill="#ccc"/>
<path d="M479.60,281.50 C479.60,273.95 483.15,270.40 490.70,270.40 C498.25,270.40 501.80,273.95 501.80,281.50 C501.80,295.02 496.25,303.30 490.70,303.30 C485.15,303.30 479.60,295.02 479.60,281.50 Z" fill="#fff" stroke="#1a1a1a" stroke-width="0.5"/>
<path d="M481.42,281.88 C481.42,274.59 484.61,271.16 491.38,271.16 C498.16,271.16 501.34,274.59 501.34,281.88 C501.34,294.48 496.36,302.20 491.38,302.20 C486.40,302.20 481.42,294.48 481.42,281.88 Z" fill="#f4f4f4" stroke="#1a1a1a" stroke-width="0.5"/>
<path d="M482.96,282.20 C482.96,275.13 485.84,271.80 491.96,271.80 C498.08,271.80 500.96,275.13 500.96,282.20 C500.96,294.02 496.46,301.27 491.96,301.27 C487.46,301.27 482.96,294.02 482.96,282.20 Z" fill="#8c8c8c" stroke="#1a1a1a" stroke-width="0.5"/>
<path d="M484.40,282.50 C484.40,275.63 486.99,272.40 492.50,272.40 C498.01,272.40 500.60,275.63 500.60,282.50 C500.60,293.60 496.55,300.40 492.50,300.40 C488.45,300.40 484.40,293.60 484.40,282.50 Z" fill="#060606" stroke="#000" stroke-width="0.4"/>
<ellipse cx="494" cy="286.8" rx="0.55" ry="1.2" fill="#fff"/>
<rect x="458.2" y="249.6" width="60.00" height="58.70" fill="none" stroke="#000" stroke-width="1.5"/>
<line x1="478.8" y1="249.6" x2="478.8" y2="308.3" stroke="#111" stroke-width="0.7"/>
<line x1="458.2" y1="292.7" x2="518.2" y2="292.7" stroke="#111" stroke-width="0.7"/>
<line x1="478.8" y1="293.65000000000003" x2="518.2" y2="293.65000000000003" stroke="#fff" stroke-width="0.9"/>
<rect x="478.8" y="295.1" width="39.40" height="13.20" fill="none" stroke="#000" stroke-width="1.5"/>
<text x="516.5" y="307" font-size="4.8" text-anchor="end" font-family="Liberation Serif, serif" fill="#000">4.72%</text>
<line x1="455.8" y1="308.70" x2="458.2" y2="308.70" stroke="#000" stroke-width="1.1"/>
<text x="454.8" y="309.60" font-size="2.7" text-anchor="end" font-family="Liberation Serif, serif" font-weight="bold" fill="#000" stroke="#000" stroke-width="0.4">10</text>
<text x="455.8" y="307.80" font-size="1.8" text-anchor="middle" font-family="Liberation Serif, serif" font-weight="bold" fill="#000" stroke="#000" stroke-width="0.4">1</text>
<line x1="455.8" y1="294.02" x2="458.2" y2="294.02" stroke="#000" stroke-width="1.1"/>
<text x="454.8" y="294.92" font-size="2.7" text-anchor="end" font-family="Liberation Serif, serif" font-weight="bold" fill="#000" stroke="#000" stroke-width="0.4">10</text>
<text x="455.8" y="293.12" font-size="1.8" text-anchor="middle" font-family="Liberation Serif, serif" font-weight="bold" fill="#000" stroke="#000" stroke-width="0.4">2</text>
<line x1="455.8" y1="279.35" x2="458.2" y2="279.35" stroke="#000" stroke-width="1.1"/>
<text x="454.8" y="280.25" font-size="2.7" text-anchor="end" font-family="Liberation Serif, serif" font-weight="bold" fill="#000" stroke="#000" stroke-width="0.4">10</text>
<text x="455.8" y="278.45" font-size="1.8" text-anchor="middle" font-family="Liberation Serif, serif" font-weight="bold" fill="#000" stroke="#000" stroke-width="0.4">3</text>
<line x1="455.8" y1="264.67" x2="458.2" y2="264.67" stroke="#000" stroke-width="1.1"/>
<text x="454.8" y="265.57" font-size="2.7" text-anchor="end" font-family="Liberation Serif, serif" font-weight="bold" fill="#000" stroke="#000" stroke-width="0.4">10</text>
<text x="455.8" y="263.77" font-size="1.8" text-anchor="middle" font-family="Liberation Serif, serif" font-weight="bold" fill="#000" stroke="#000" stroke-width="0.4">4</text>
<line x1="455.8" y1="250.00" x2="458.2" y2="250.00" stroke="#000" stroke-width="1.1"/>
<text x="454.8" y="250.90" font-size="2.7" text-anchor="end" font-family="Liberation Serif, serif" font-weight="bold" fill="#000" stroke="#000" stroke-width="0.4">10</text>
<text x="455.8" y="249.10" font-size="1.8" text-anchor="middle" font-family="Liberation Serif, serif" font-weight="bold" fill="#000" stroke="#000" stroke-width="0.4">5</text>
<line x1="456.59999999999997" y1="304.28" x2="458.2" y2="304.28" stroke="#000" stroke-width="0.75"/>
<line x1="456.59999999999997" y1="301.70" x2="458.2" y2="301.70" stroke="#000" stroke-width="0.75"/>
<line x1="456.59999999999997" y1="299.86" x2="458.2" y2="299.86" stroke="#000" stroke-width="0.75"/>
<line x1="456.59999999999997" y1="298.44" x2="458.2" y2="298.44" stroke="#000" stroke-width="0.75"/>
<line x1="456.59999999999997" y1="297.28" x2="458.2" y2="297.28" stroke="#000" stroke-width="0.75"/>
<line x1="456.59999999999997" y1="296.30" x2="458.2" y2="296.30" stroke="#000" stroke-width="0.75"/>
<line x1="456.59999999999997" y1="295.45" x2="458.2" y2="295.45" stroke="#000" stroke-width="0.75"/>
<line x1="456.59999999999997" y1="294.70" x2="458.2" y2="294.70" stroke="#000" stroke-width="0.75"/>
<line x1="456.59999999999997" y1="289.61" x2="458.2" y2="289.61" stroke="#000" stroke-width="0.75"/>
<line x1="456.59999999999997" y1="287.02" x2="458.2" y2="287.02" stroke="#000" stroke-width="0.75"/>
<line x1="456.59999999999997" y1="285.19" x2="458.2" y2="285.19" stroke="#000" stroke-width="0.75"/>
<line x1="456.59999999999997" y1="283.77" x2="458.2" y2="283.77" stroke="#000" stroke-width="0.75"/>
<line x1="456.59999999999997" y1="282.61" x2="458.2" y2="282.61" stroke="#000" stroke-width="0.75"/>
<line x1="456.59999999999997" y1="281.62" x2="458.2" y2="281.62" stroke="#000" stroke-width="0.75"/>
<line x1="456.59999999999997" y1="280.77" x2="458.2" y2="280.77" stroke="#000" stroke-width="0.75"/>
<line x1="456.59999999999997" y1="280.02" x2="458.2" y2="280.02" stroke="#000" stroke-width="0.75"/>
<line x1="456.59999999999997" y1="274.93" x2="458.2" y2="274.93" stroke="#000" stroke-width="0.75"/>
<line x1="456.59999999999997" y1="272.35" x2="458.2" y2="272.35" stroke="#000" stroke-width="0.75"/>
<line x1="456.59999999999997" y1="270.51" x2="458.2" y2="270.51" stroke="#000" stroke-width="0.75"/>
<line x1="456.59999999999997" y1="269.09" x2="458.2" y2="269.09" stroke="#000" stroke-width="0.75"/>
<line x1="456.59999999999997" y1="267.93" x2="458.2" y2="267.93" stroke="#000" stroke-width="0.75"/>
<line x1="456.59999999999997" y1="266.95" x2="458.2" y2="266.95" stroke="#000" stroke-width="0.75"/>
<line x1="456.59999999999997" y1="266.10" x2="458.2" y2="266.10" stroke="#000" stroke-width="0.75"/>
<line x1="456.59999999999997" y1="265.35" x2="458.2" y2="265.35" stroke="#000" stroke-width="0.75"/>
<line x1="456.59999999999997" y1="260.26" x2="458.2" y2="260.26" stroke="#000" stroke-width="0.75"/>
<line x1="456.59999999999997" y1="257.67" x2="458.2" y2="257.67" stroke="#000" stroke-width="0.75"/>
<line x1="456.59999999999997" y1="255.84" x2="458.2" y2="255.84" stroke="#000" stroke-width="0.75"/>
<line x1="456.59999999999997" y1="254.42" x2="458.2" y2="254.42" stroke="#000" stroke-width="0.75"/>
<line x1="456.59999999999997" y1="253.26" x2="458.2" y2="253.26" stroke="#000" stroke-width="0.75"/>
<line x1="456.59999999999997" y1="252.27" x2="458.2" y2="252.27" stroke="#000" stroke-width="0.75"/>
<line x1="456.59999999999997" y1="251.42" x2="458.2" y2="251.42" stroke="#000" stroke-width="0.75"/>
<line x1="456.59999999999997" y1="250.67" x2="458.2" y2="250.67" stroke="#000" stroke-width="0.75"/>
<line x1="461.00" y1="308.3" x2="461.00" y2="310.7" stroke="#000" stroke-width="1.1"/>
<text x="461.20" y="313.90000000000003" font-size="2.7" text-anchor="middle" font-family="Liberation Serif, serif" font-weight="bold" fill="#000" stroke="#000" stroke-width="0.4">10</text>
<text x="463.10" y="312.5" font-size="1.8" text-anchor="middle" font-family="Liberation Serif, serif" font-weight="bold" fill="#000" stroke="#000" stroke-width="0.4">1</text>
<line x1="474.60" y1="308.3" x2="474.60" y2="310.7" stroke="#000" stroke-width="1.1"/>
<text x="474.80" y="313.90000000000003" font-size="2.7" text-anchor="middle" font-family="Liberation Serif, serif" font-weight="bold" fill="#000" stroke="#000" stroke-width="0.4">10</text>
<text x="476.70" y="312.5" font-size="1.8" text-anchor="middle" font-family="Liberation Serif, serif" font-weight="bold" fill="#000" stroke="#000" stroke-width="0.4">2</text>
<line x1="488.20" y1="308.3" x2="488.20" y2="310.7" stroke="#000" stroke-width="1.1"/>
<text x="488.40" y="313.90000000000003" font-size="2.7" text-anchor="middle" font-family="Liberation Serif, serif" font-weight="bold" fill="#000" stroke="#000" stroke-width="0.4">10</text>
<text x="490.30" y="312.5" font-size="1.8" text-anchor="middle" font-family="Liberation Serif, serif" font-weight="bold" fill="#000" stroke="#000" stroke-width="0.4">3</text>
<line x1="501.80" y1="308.3" x2="501.80" y2="310.7" stroke="#000" stroke-width="1.1"/>
<text x="502.00" y="313.90000000000003" font-size="2.7" text-anchor="middle" font-family="Liberation Serif, serif" font-weight="bold" fill="#000" stroke="#000" stroke-width="0.4">10</text>
<text x="503.90" y="312.5" font-size="1.8" text-anchor="middle" font-family="Liberation Serif, serif" font-weight="bold" fill="#000" stroke="#000" stroke-width="0.4">4</text>
<line x1="515.40" y1="308.3" x2="515.40" y2="310.7" stroke="#000" stroke-width="1.1"/>
<text x="515.60" y="313.90000000000003" font-size="2.7" text-anchor="middle" font-family="Liberation Serif, serif" font-weight="bold" fill="#000" stroke="#000" stroke-width="0.4">10</text>
<text x="517.50" y="312.5" font-size="1.8" text-anchor="middle" font-family="Liberation Serif, serif" font-weight="bold" fill="#000" stroke="#000" stroke-width="0.4">5</text>
<line x1="465.09" y1="308.3" x2="465.09" y2="309.90000000000003" stroke="#000" stroke-width="0.75"/>
<line x1="467.49" y1="308.3" x2="467.49" y2="309.90000000000003" stroke="#000" stroke-width="0.75"/>
<line x1="469.19" y1="308.3" x2="469.19" y2="309.90000000000003" stroke="#000" stroke-width="0.75"/>
<line x1="470.51" y1="308.3" x2="470.51" y2="309.90000000000003" stroke="#000" stroke-width="0.75"/>
<line x1="471.58" y1="308.3" x2="471.58" y2="309.90000000000003" stroke="#000" stroke-width="0.75"/>
<line x1="472.49" y1="308.3" x2="472.49" y2="309.90000000000003" stroke="#000" stroke-width="0.75"/>
<line x1="473.28" y1="308.3" x2="473.28" y2="309.90000000000003" stroke="#000" stroke-width="0.75"/>
<line x1="473.98" y1="308.3" x2="473.98" y2="309.90000000000003" stroke="#000" stroke-width="0.75"/>
<line x1="478.69" y1="308.3" x2="478.69" y2="309.90000000000003" stroke="#000" stroke-width="0.75"/>
<line x1="481.09" y1="308.3" x2="481.09" y2="309.90000000000003" stroke="#000" stroke-width="0.75"/>
<line x1="482.79" y1="308.3" x2="482.79" y2="309.90000000000003" stroke="#000" stroke-width="0.75"/>
<line x1="484.11" y1="308.3" x2="484.11" y2="309.90000000000003" stroke="#000" stroke-width="0.75"/>
<line x1="485.18" y1="308.3" x2="485.18" y2="309.90000000000003" stroke="#000" stroke-width="0.75"/>
<line x1="486.09" y1="308.3" x2="486.09" y2="309.90000000000003" stroke="#000" stroke-width="0.75"/>
<line x1="486.88" y1="308.3" x2="486.88" y2="309.90000000000003" stroke="#000" stroke-width="0.75"/>
<line x1="487.58" y1="308.3" x2="487.58" y2="309.90000000000003" stroke="#000" stroke-width="0.75"/>
<line x1="492.29" y1="308.3" x2="492.29" y2="309.90000000000003" stroke="#000" stroke-width="0.75"/>
<line x1="494.69" y1="308.3" x2="494.69" y2="309.90000000000003" stroke="#000" stroke-width="0.75"/>
<line x1="496.39" y1="308.3" x2="496.39" y2="309.90000000000003" stroke="#000" stroke-width="0.75"/>
<line x1="497.71" y1="308.3" x2="497.71" y2="309.90000000000003" stroke="#000" stroke-width="0.75"/>
<line x1="498.78" y1="308.3" x2="498.78" y2="309.90000000000003" stroke="#000" stroke-width="0.75"/>
<line x1="499.69" y1="308.3" x2="499.69" y2="309.90000000000003" stroke="#000" stroke-width="0.75"/>
<line x1="500.48" y1="308.3" x2="500.48" y2="309.90000000000003" stroke="#000" stroke-width="0.75"/>
<line x1="501.18" y1="308.3" x2="501.18" y2="309.90000000000003" stroke="#000" stroke-width="0.75"/>
<line x1="505.89" y1="308.3" x2="505.89" y2="309.90000000000003" stroke="#000" stroke-width="0.75"/>
<line x1="508.29" y1="308.3" x2="508.29" y2="309.90000000000003" stroke="#000" stroke-width="0.75"/>
<line x1="509.99" y1="308.3" x2="509.99" y2="309.90000000000003" stroke="#000" stroke-width="0.75"/>
<line x1="511.31" y1="308.3" x2="511.31" y2="309.90000000000003" stroke="#000" stroke-width="0.75"/>
<line x1="512.38" y1="308.3" x2="512.38" y2="309.90000000000003" stroke="#000" stroke-width="0.75"/>
<line x1="513.29" y1="308.3" x2="513.29" y2="309.90000000000003" stroke="#000" stroke-width="0.75"/>
<line x1="514.08" y1="308.3" x2="514.08" y2="309.90000000000003" stroke="#000" stroke-width="0.75"/>
<line x1="514.78" y1="308.3" x2="514.78" y2="309.90000000000003" stroke="#000" stroke-width="0.75"/>
<line x1="248.6" y1="317.2" x2="307.6" y2="317.2" stroke="#000" stroke-width="1.5"/>
<path d="M308.6,317.2 L304.70000000000005,314.65 L304.70000000000005,319.75 Z" fill="#000"/>
<text x="277.2" y="326" font-size="8.2" text-anchor="middle" font-family="Liberation Serif, serif" fill="#000">CD34-PECCY7</text>
<rect x="27.2" y="345.7" width="243.10" height="112.10" fill="none" stroke="#000" stroke-width="1.7"/>
<line x1="23.0" y1="435.5" x2="27.2" y2="435.5" stroke="#000" stroke-width="1.2"/>
<text x="20.8" y="436.7" font-size="8.8" text-anchor="end" font-family="Liberation Serif, serif" fill="#000">1</text>
<line x1="23.0" y1="413.40000000000003" x2="27.2" y2="413.40000000000003" stroke="#000" stroke-width="1.2"/>
<text x="20.8" y="414.6" font-size="8.8" text-anchor="end" font-family="Liberation Serif, serif" fill="#000">2</text>
<line x1="23.0" y1="391.3" x2="27.2" y2="391.3" stroke="#000" stroke-width="1.2"/>
<text x="20.8" y="392.5" font-size="8.8" text-anchor="end" font-family="Liberation Serif, serif" fill="#000">3</text>
<line x1="23.0" y1="369.20000000000005" x2="27.2" y2="369.20000000000005" stroke="#000" stroke-width="1.2"/>
<text x="20.8" y="370.40000000000003" font-size="8.8" text-anchor="end" font-family="Liberation Serif, serif" fill="#000">4</text>
<rect x="32.40" y="436.70" width="18.70" height="20.90" fill="#000" stroke="#000" stroke-width="1.4"/>
<rect x="58.10" y="432.90" width="18.80" height="24.70" fill="#808080" stroke="#000" stroke-width="1.4"/>
<line x1="67.5" y1="431.6" x2="67.5" y2="432.8" stroke="#000" stroke-width="1.35"/>
<line x1="64.7" y1="431.6" x2="70.3" y2="431.6" stroke="#000" stroke-width="1.35"/>
<rect x="83.70" y="432.10" width="18.80" height="25.50" fill="#c2c2c2" stroke="#000" stroke-width="1.4"/>
<line x1="93.1" y1="429.6" x2="93.1" y2="432.0" stroke="#000" stroke-width="1.35"/>
<line x1="90.3" y1="429.6" x2="95.89999999999999" y2="429.6" stroke="#000" stroke-width="1.35"/>
<rect x="110.70" y="436.70" width="18.80" height="20.90" fill="#000" stroke="#000" stroke-width="1.4"/>
<rect x="137.50" y="435.30" width="18.80" height="22.30" fill="#808080" stroke="#000" stroke-width="1.4"/>
<line x1="146.9" y1="432.8" x2="146.9" y2="435.20000000000005" stroke="#000" stroke-width="1.35"/>
<line x1="144.1" y1="432.8" x2="149.70000000000002" y2="432.8" stroke="#000" stroke-width="1.35"/>
<rect x="164.30" y="435.30" width="18.80" height="22.30" fill="#c2c2c2" stroke="#000" stroke-width="1.4"/>
<line x1="173.7" y1="432.8" x2="173.7" y2="435.20000000000005" stroke="#000" stroke-width="1.35"/>
<line x1="170.89999999999998" y1="432.8" x2="176.5" y2="432.8" stroke="#000" stroke-width="1.35"/>
<rect x="191.50" y="436.70" width="19.00" height="20.90" fill="#000" stroke="#000" stroke-width="1.4"/>
<rect x="217.70" y="414.30" width="18.80" height="43.30" fill="#808080" stroke="#000" stroke-width="1.4"/>
<line x1="227.1" y1="406.6" x2="227.1" y2="414.20000000000005" stroke="#000" stroke-width="1.35"/>
<line x1="224.29999999999998" y1="406.6" x2="229.9" y2="406.6" stroke="#000" stroke-width="1.35"/>
<rect x="244.50" y="391.30" width="18.80" height="66.30" fill="#c2c2c2" stroke="#000" stroke-width="1.4"/>
<line x1="253.9" y1="365.2" x2="253.9" y2="391.20000000000005" stroke="#000" stroke-width="1.35"/>
<line x1="251.1" y1="365.2" x2="256.7" y2="365.2" stroke="#000" stroke-width="1.35"/>
<line x1="40.6" y1="353.4" x2="91.8" y2="353.4" stroke="#000" stroke-width="1.6"/>
<text x="66.9" y="356.31" font-size="12.5" text-anchor="middle" font-family="Liberation Serif, serif" fill="#000">*</text>
<line x1="41" y1="363.8" x2="66.6" y2="363.8" stroke="#000" stroke-width="1.6"/>
<text x="54.3" y="366.31" font-size="12.5" text-anchor="middle" font-family="Liberation Serif, serif" fill="#000">*</text>
<line x1="200.3" y1="353.7" x2="251.2" y2="353.7" stroke="#000" stroke-width="1.6"/>
<text x="226.5" y="356.71" font-size="12.5" text-anchor="middle" font-family="Liberation Serif, serif" fill="#000">*</text>
<line x1="200.3" y1="363.8" x2="225.7" y2="363.8" stroke="#000" stroke-width="1.6"/>
<text x="213.4" y="366.31" font-size="12.5" text-anchor="middle" font-family="Liberation Serif, serif" fill="#000">*</text>
<text x="65" y="471.1" font-size="9.2" text-anchor="middle" font-family="Liberation Serif, serif" fill="#000">Lineage negative</text>
<text x="147.7" y="471.1" font-size="9.2" text-anchor="middle" font-family="Liberation Serif, serif" fill="#000">CD34+CD38+</text>
<text x="228" y="471.1" font-size="9.2" text-anchor="middle" font-family="Liberation Serif, serif" fill="#000">CD34+CD38-</text>
<text x="11.7" y="403.7" font-size="8.66" text-anchor="middle" font-family="Liberation Serif, serif" fill="#000" transform="rotate(-90 11.7 403.7)">Progenitor population (FI)</text>
<rect x="275.00" y="347.80" width="5.80" height="5.80" fill="#000" stroke="#000" stroke-width="1.4"/>
<text x="284.8" y="353.59999999999997" font-size="8.75" text-anchor="start" font-family="Liberation Serif, serif" fill="#000">Control</text>
<rect x="275.00" y="359.30" width="5.80" height="5.80" fill="#808080" stroke="#000" stroke-width="1.4"/>
<text x="284.8" y="365.09999999999997" font-size="8.75" text-anchor="start" font-family="Liberation Serif, serif" fill="#000">PKBinh 24h</text>
<rect x="275.00" y="370.60" width="5.80" height="5.80" fill="#c2c2c2" stroke="#000" stroke-width="1.4"/>
<text x="284.8" y="376.4" font-size="8.75" text-anchor="start" font-family="Liberation Serif, serif" fill="#000">PKBinh 48h</text>
<rect x="28.2" y="508.4" width="143.40" height="112.20" fill="none" stroke="#000" stroke-width="1.7"/>
<line x1="24.0" y1="598.62" x2="28.2" y2="598.62" stroke="#000" stroke-width="1.2"/>
<text x="20.0" y="599.62" font-size="8.8" text-anchor="end" font-family="Liberation Serif, serif" fill="#000">20</text>
<line x1="24.0" y1="576.74" x2="28.2" y2="576.74" stroke="#000" stroke-width="1.2"/>
<text x="20.0" y="577.74" font-size="8.8" text-anchor="end" font-family="Liberation Serif, serif" fill="#000">40</text>
<line x1="24.0" y1="554.86" x2="28.2" y2="554.86" stroke="#000" stroke-width="1.2"/>
<text x="20.0" y="555.86" font-size="8.8" text-anchor="end" font-family="Liberation Serif, serif" fill="#000">60</text>
<line x1="24.0" y1="532.98" x2="28.2" y2="532.98" stroke="#000" stroke-width="1.2"/>
<text x="20.0" y="533.98" font-size="8.8" text-anchor="end" font-family="Liberation Serif, serif" fill="#000">80</text>
<rect x="41.70" y="576.70" width="24.40" height="43.90" fill="#000" stroke="#000" stroke-width="1.4"/>
<line x1="53.9" y1="570.8" x2="53.9" y2="577" stroke="#000" stroke-width="1.35"/>
<line x1="51.1" y1="570.8" x2="56.699999999999996" y2="570.8" stroke="#000" stroke-width="1.35"/>
<rect x="89.70" y="573.90" width="23.60" height="46.70" fill="#808080" stroke="#000" stroke-width="1.4"/>
<line x1="101.4" y1="568.6" x2="101.4" y2="574" stroke="#000" stroke-width="1.35"/>
<line x1="98.60000000000001" y1="568.6" x2="104.2" y2="568.6" stroke="#000" stroke-width="1.35"/>
<rect x="132.30" y="572.50" width="24.00" height="48.10" fill="#c2c2c2" stroke="#000" stroke-width="1.4"/>
<line x1="144.2" y1="566.8" x2="144.2" y2="573" stroke="#000" stroke-width="1.35"/>
<line x1="141.39999999999998" y1="566.8" x2="147.0" y2="566.8" stroke="#000" stroke-width="1.35"/>
<text x="8.2" y="561.8" font-size="9.7" text-anchor="middle" font-family="Liberation Serif, serif" fill="#000" transform="rotate(-90 8.2 561.8)">Total CFU (%)</text>
<rect x="182.10" y="511.00" width="5.80" height="5.80" fill="#000" stroke="#000" stroke-width="1.4"/>
<text x="191.7" y="516.8" font-size="8.75" text-anchor="start" font-family="Liberation Serif, serif" fill="#000">Control</text>
<rect x="182.10" y="522.30" width="5.80" height="5.80" fill="#808080" stroke="#000" stroke-width="1.4"/>
<text x="191.7" y="528.1" font-size="8.75" text-anchor="start" font-family="Liberation Serif, serif" fill="#000">PKBinh 24h</text>
<rect x="182.10" y="533.70" width="5.80" height="5.80" fill="#c2c2c2" stroke="#000" stroke-width="1.4"/>
<text x="191.7" y="539.5" font-size="8.75" text-anchor="start" font-family="Liberation Serif, serif" fill="#000">PKBinh 48h</text>
<rect x="291.9" y="506.3" width="144.10" height="112.30" fill="none" stroke="#000" stroke-width="1.7"/>
<line x1="288.5" y1="604.35" x2="291.9" y2="604.35" stroke="#000" stroke-width="1.3"/>
<text x="284.5" y="606.35" font-size="9" text-anchor="end" font-family="Liberation Serif, serif" fill="#000">10</text>
<line x1="288.5" y1="576.25" x2="291.9" y2="576.25" stroke="#000" stroke-width="1.3"/>
<text x="284.5" y="578.25" font-size="9" text-anchor="end" font-family="Liberation Serif, serif" fill="#000">30</text>
<line x1="288.5" y1="548.15" x2="291.9" y2="548.15" stroke="#000" stroke-width="1.3"/>
<text x="284.5" y="550.15" font-size="9" text-anchor="end" font-family="Liberation Serif, serif" fill="#000">50</text>
<line x1="288.5" y1="520.05" x2="291.9" y2="520.05" stroke="#000" stroke-width="1.3"/>
<text x="284.5" y="522.05" font-size="9" text-anchor="end" font-family="Liberation Serif, serif" fill="#000">70</text>
<rect x="299.30" y="529.00" width="15.40" height="89.60" fill="#000" stroke="#000" stroke-width="1.4"/>
<line x1="307.0" y1="518.5" x2="307.0" y2="528.9" stroke="#000" stroke-width="1.4"/>
<line x1="305.5" y1="518.5" x2="308.5" y2="518.5" stroke="#000" stroke-width="1.4"/>
<rect x="322.90" y="527.70" width="15.20" height="90.90" fill="#808080" stroke="#000" stroke-width="1.4"/>
<line x1="330.5" y1="517.8" x2="330.5" y2="527.6" stroke="#000" stroke-width="1.4"/>
<line x1="329.0" y1="517.8" x2="332.0" y2="517.8" stroke="#000" stroke-width="1.4"/>
<rect x="346.00" y="528.40" width="15.10" height="90.20" fill="#c2c2c2" stroke="#000" stroke-width="1.4"/>
<line x1="353.55" y1="519" x2="353.55" y2="528.3000000000001" stroke="#000" stroke-width="1.4"/>
<line x1="352.05" y1="519" x2="355.05" y2="519" stroke="#000" stroke-width="1.4"/>
<rect x="369.10" y="567.70" width="15.40" height="50.90" fill="#000" stroke="#000" stroke-width="1.4"/>
<line x1="376.79999999999995" y1="557.5" x2="376.79999999999995" y2="567.6" stroke="#000" stroke-width="1.4"/>
<line x1="375.29999999999995" y1="557.5" x2="378.29999999999995" y2="557.5" stroke="#000" stroke-width="1.4"/>
<rect x="392.30" y="569.90" width="15.40" height="48.70" fill="#808080" stroke="#000" stroke-width="1.4"/>
<line x1="400.0" y1="560" x2="400.0" y2="569.8000000000001" stroke="#000" stroke-width="1.4"/>
<line x1="398.5" y1="560" x2="401.5" y2="560" stroke="#000" stroke-width="1.4"/>
<rect x="414.50" y="569.00" width="15.60" height="49.60" fill="#c2c2c2" stroke="#000" stroke-width="1.4"/>
<line x1="422.3" y1="559.4" x2="422.3" y2="568.9" stroke="#000" stroke-width="1.4"/>
<line x1="420.8" y1="559.4" x2="423.8" y2="559.4" stroke="#000" stroke-width="1.4"/>
<line x1="299.4" y1="624.1" x2="361.5" y2="624.1" stroke="#000" stroke-width="1.8"/>
<line x1="370.5" y1="624.1" x2="431.2" y2="624.1" stroke="#000" stroke-width="1.8"/>
<text x="330.7" y="635.9" font-size="9.15" text-anchor="middle" font-family="Liberation Serif, serif" fill="#000">CFU-GM</text>
<text x="401.4" y="635.9" font-size="9.1" text-anchor="middle" font-family="Liberation Serif, serif" fill="#000">CFU-E</text>
<text x="269.5" y="563.8" font-size="9.8" text-anchor="middle" font-family="Liberation Serif, serif" fill="#000" transform="rotate(-90 269.5 563.8)">CFU (%)</text>
<rect x="441.40" y="506.60" width="5.80" height="5.80" fill="#000" stroke="#000" stroke-width="1.4"/>
<text x="451.2" y="512.4" font-size="8.75" text-anchor="start" font-family="Liberation Serif, serif" fill="#000">Control</text>
<rect x="441.40" y="517.70" width="5.80" height="5.80" fill="#808080" stroke="#000" stroke-width="1.4"/>
<text x="451.2" y="523.5" font-size="8.75" text-anchor="start" font-family="Liberation Serif, serif" fill="#000">PKBinh 24h</text>
<rect x="441.40" y="529.00" width="5.80" height="5.80" fill="#c2c2c2" stroke="#000" stroke-width="1.4"/>
<text x="451.2" y="534.8" font-size="8.75" text-anchor="start" font-family="Liberation Serif, serif" fill="#000">PKBinh 48h</text>
</svg>
</body></html>
